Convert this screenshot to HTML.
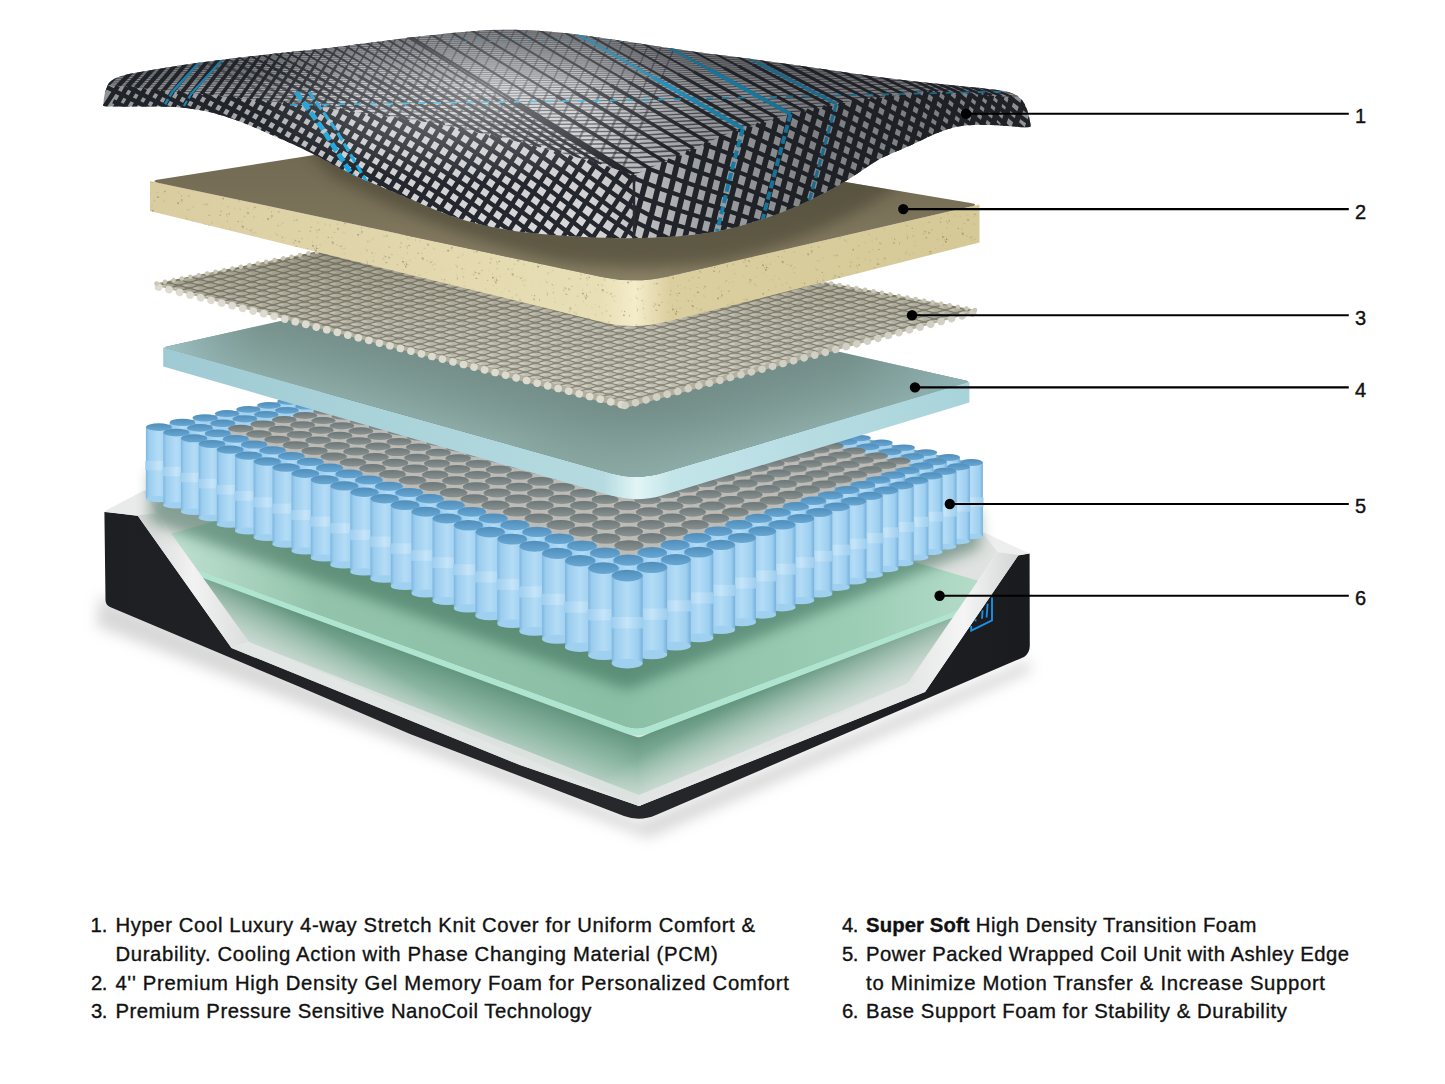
<!DOCTYPE html>
<html><head><meta charset="utf-8"><title>Mattress layers</title>
<style>html,body{margin:0;padding:0;background:#fff}svg{display:block;font-family:"Liberation Sans",sans-serif}</style></head>
<body><svg width="1445" height="1084" viewBox="0 0 1445 1084">
<rect width="1445" height="1084" fill="#fff"/>
<defs>
<filter id="blur8" x="-10%" y="-30%" width="120%" height="160%"><feGaussianBlur stdDeviation="7"/></filter>
<linearGradient id="gBlack" x1="0" y1="0" x2="1" y2="0"><stop offset="0" stop-color="#1d1f22"/><stop offset=".55" stop-color="#26282b"/><stop offset="1" stop-color="#1a1b1e"/></linearGradient>
<linearGradient id="gGreenTop" gradientUnits="userSpaceOnUse" x1="170" y1="0" x2="980" y2="0"><stop offset="0" stop-color="#bfe0d1"/><stop offset=".18" stop-color="#93c4ab"/><stop offset=".55" stop-color="#8bbfa5"/><stop offset=".85" stop-color="#9ccdb5"/><stop offset="1" stop-color="#b4dcc9"/></linearGradient>
<linearGradient id="gGreenLow" gradientUnits="userSpaceOnUse" x1="0" y1="600" x2="0" y2="800"><stop offset="0" stop-color="#6a9c87"/><stop offset=".5" stop-color="#97c1ad"/><stop offset="1" stop-color="#d9e4df"/></linearGradient>
<linearGradient id="gGreenLowA" gradientUnits="userSpaceOnUse" x1="412" y1="655" x2="384.4" y2="730"><stop offset="0" stop-color="#64967f"/><stop offset=".35" stop-color="#8ab6a1"/><stop offset="1" stop-color="#dce6e1"/></linearGradient>
<linearGradient id="gGreenLowB" gradientUnits="userSpaceOnUse" x1="805" y1="674" x2="833.5" y2="748.7"><stop offset="0" stop-color="#64967f"/><stop offset=".35" stop-color="#8ab6a1"/><stop offset="1" stop-color="#dce6e1"/></linearGradient>
<linearGradient id="gGreenLowL" gradientUnits="userSpaceOnUse" x1="200" y1="780" x2="330" y2="560"><stop offset=".45" stop-color="#dfe5e2"/><stop offset=".75" stop-color="#dfe5e2" stop-opacity="0"/></linearGradient>
<linearGradient id="gGreenLowR" gradientUnits="userSpaceOnUse" x1="960" y1="800" x2="830" y2="560"><stop offset=".42" stop-color="#dfe5e2"/><stop offset=".7" stop-color="#dfe5e2" stop-opacity="0"/></linearGradient>
<linearGradient id="gWhiteL" x1="0" y1="0" x2="1" y2="0"><stop offset="0" stop-color="#d4d6d5"/><stop offset=".5" stop-color="#f1f2f1"/><stop offset="1" stop-color="#dcdedd"/></linearGradient>
<linearGradient id="gWhiteR" x1="0" y1="0" x2="1" y2="0"><stop offset="0" stop-color="#e4e6e5"/><stop offset=".5" stop-color="#f4f5f4"/><stop offset="1" stop-color="#d4d6d5"/></linearGradient>


<linearGradient id="gCyl" x1="0" y1="0" x2="1" y2="0"><stop offset="0" stop-color="#7fb6df"/><stop offset=".12" stop-color="#9bcdef"/><stop offset=".5" stop-color="#b4dcf6"/><stop offset=".85" stop-color="#9dcff0"/><stop offset="1" stop-color="#78b1dc"/></linearGradient>
<linearGradient id="gBand" x1="0" y1="0" x2="1" y2="0"><stop offset="0" stop-color="#9dcdee"/><stop offset=".5" stop-color="#c6e5f9"/><stop offset="1" stop-color="#9dcdee"/></linearGradient>
<linearGradient id="gCapB" x1="0" y1="0" x2="0" y2="1"><stop offset="0" stop-color="#4f8ebb"/><stop offset="1" stop-color="#68a7d2"/></linearGradient>
<linearGradient id="gCapG" x1="0" y1="0" x2="0" y2="1"><stop offset="0" stop-color="#6b7677"/><stop offset="1" stop-color="#8a9291"/></linearGradient>
<linearGradient id="gCoilShade" gradientUnits="userSpaceOnUse" x1="0" y1="420" x2="0" y2="680"><stop offset="0" stop-color="#2a5f8a" stop-opacity=".12"/><stop offset=".5" stop-color="#fff" stop-opacity="0"/><stop offset="1" stop-color="#fff" stop-opacity=".08"/></linearGradient>

<linearGradient id="g4s" gradientUnits="userSpaceOnUse" x1="163.2" y1="0" x2="969.4" y2="0"><stop offset="0" stop-color="#9fcad3"/><stop offset="0.546" stop-color="#b5dbe0"/><stop offset="0.588" stop-color="#e2f5f6"/><stop offset="0.630" stop-color="#c3e5e9"/><stop offset="1" stop-color="#a8d3da"/></linearGradient>
<linearGradient id="g4a" gradientUnits="userSpaceOnUse" x1="400" y1="414" x2="421" y2="340"><stop offset="0" stop-color="#8dabA6" stop-opacity="1"/><stop offset=".5" stop-color="#84a19b" stop-opacity=".55"/><stop offset="1" stop-color="#7c9993" stop-opacity="0"/></linearGradient>
<linearGradient id="g4b" gradientUnits="userSpaceOnUse" x1="800" y1="431.5" x2="778" y2="358"><stop offset="0" stop-color="#8dabA6" stop-opacity="1"/><stop offset=".5" stop-color="#84a19b" stop-opacity=".55"/><stop offset="1" stop-color="#7c9993" stop-opacity="0"/></linearGradient>
<linearGradient id="g4rim" gradientUnits="userSpaceOnUse" x1="163" y1="0" x2="970" y2="0"><stop offset="0" stop-color="#9fc4c8" stop-opacity=".9"/><stop offset=".12" stop-color="#86a8a8" stop-opacity="0"/><stop offset=".85" stop-color="#86a8a8" stop-opacity="0"/><stop offset="1" stop-color="#8fb4b8" stop-opacity=".8"/></linearGradient>
<pattern id="pNano" width="1" height="1" patternUnits="userSpaceOnUse" patternTransform="matrix(10.5 2.8 10.5 -3 0 0)">
<rect width="1" height="1" fill="#7c7a6c"/><rect x=".1" y=".1" width=".8" height=".8" rx=".28" fill="#bab8a8"/><rect x=".15" y=".15" width=".42" height=".42" rx=".2" fill="#d0cec1"/></pattern>
<linearGradient id="g3sh" gradientUnits="userSpaceOnUse" x1="0" y1="230" x2="0" y2="410"><stop offset="0" stop-color="#5d5a48" stop-opacity=".55"/><stop offset=".35" stop-color="#77735f" stop-opacity=".25"/><stop offset="1" stop-color="#ffffff" stop-opacity=".12"/></linearGradient>
<linearGradient id="g2s" gradientUnits="userSpaceOnUse" x1="150" y1="0" x2="979.5" y2="0"><stop offset="0" stop-color="#d9cda0"/><stop offset="0.544" stop-color="#e9dfb6"/><stop offset="0.585" stop-color="#f4ecca"/><stop offset="0.626" stop-color="#dccf9f"/><stop offset="1" stop-color="#d6c998"/></linearGradient>
<linearGradient id="g2t" gradientUnits="userSpaceOnUse" x1="0" y1="130" x2="0" y2="290"><stop offset="0" stop-color="#6e664f"/><stop offset=".5" stop-color="#7a7159"/><stop offset="1" stop-color="#8b8267"/></linearGradient>
<pattern id="pSpeck" width="90" height="60" patternUnits="userSpaceOnUse" patternTransform="skewY(10)"><circle cx="29.1" cy="9.1" r="0.8" fill="#8a7c54"/><circle cx="6.5" cy="32.2" r="0.5" fill="#8a7c54"/><circle cx="81.9" cy="12.9" r="0.3" fill="#b3a678"/><circle cx="37.6" cy="14.4" r="0.6" fill="#b3a678"/><circle cx="5.3" cy="33.9" r="0.4" fill="#8a7c54"/><circle cx="51.9" cy="23.8" r="0.4" fill="#8a7c54"/><circle cx="50.1" cy="8.0" r="0.5" fill="#9c8e63"/><circle cx="48.7" cy="34.3" r="0.6" fill="#9c8e63"/><circle cx="9.3" cy="34.3" r="0.4" fill="#6f6444"/><circle cx="8.8" cy="42.7" r="0.6" fill="#8a7c54"/><circle cx="55.7" cy="29.8" r="0.6" fill="#b3a678"/><circle cx="70.0" cy="27.9" r="0.5" fill="#6f6444"/><circle cx="27.0" cy="47.7" r="0.8" fill="#9c8e63"/><circle cx="7.4" cy="18.0" r="0.5" fill="#6f6444"/><circle cx="65.7" cy="17.3" r="0.3" fill="#8a7c54"/><circle cx="46.1" cy="9.9" r="0.5" fill="#9c8e63"/><circle cx="84.0" cy="25.3" r="0.8" fill="#8a7c54"/><circle cx="68.8" cy="34.4" r="0.5" fill="#6f6444"/><circle cx="62.6" cy="35.7" r="0.6" fill="#b3a678"/><circle cx="6.2" cy="5.6" r="0.5" fill="#b3a678"/><circle cx="62.7" cy="3.9" r="0.8" fill="#6f6444"/><circle cx="58.2" cy="59.6" r="0.5" fill="#6f6444"/><circle cx="64.5" cy="53.2" r="0.5" fill="#8a7c54"/><circle cx="84.7" cy="21.3" r="0.6" fill="#8a7c54"/><circle cx="44.4" cy="13.1" r="0.5" fill="#9c8e63"/><circle cx="66.5" cy="23.9" r="0.5" fill="#8a7c54"/><circle cx="15.0" cy="24.1" r="0.5" fill="#9c8e63"/><circle cx="73.7" cy="51.8" r="0.5" fill="#b3a678"/><circle cx="88.8" cy="41.0" r="0.5" fill="#9c8e63"/><circle cx="13.6" cy="10.6" r="0.4" fill="#9c8e63"/><circle cx="1.1" cy="49.9" r="0.4" fill="#6f6444"/><circle cx="25.4" cy="8.7" r="0.6" fill="#6f6444"/><circle cx="54.9" cy="19.1" r="0.4" fill="#8a7c54"/><circle cx="41.1" cy="52.3" r="0.8" fill="#b3a678"/><circle cx="35.8" cy="23.6" r="0.5" fill="#b3a678"/><circle cx="5.6" cy="4.0" r="0.4" fill="#b3a678"/><circle cx="14.6" cy="20.4" r="0.3" fill="#8a7c54"/><circle cx="0.0" cy="9.1" r="0.3" fill="#6f6444"/><circle cx="55.2" cy="4.2" r="0.4" fill="#b3a678"/><circle cx="13.4" cy="15.1" r="0.5" fill="#6f6444"/><circle cx="42.7" cy="6.9" r="0.5" fill="#b3a678"/><circle cx="43.2" cy="18.7" r="0.4" fill="#8a7c54"/><circle cx="67.5" cy="44.4" r="0.5" fill="#9c8e63"/><circle cx="46.5" cy="12.3" r="0.6" fill="#6f6444"/><circle cx="13.2" cy="32.6" r="0.3" fill="#6f6444"/><circle cx="88.1" cy="51.8" r="0.8" fill="#6f6444"/><circle cx="46.7" cy="54.5" r="0.5" fill="#9c8e63"/><circle cx="47.9" cy="46.7" r="0.5" fill="#9c8e63"/><circle cx="55.2" cy="47.3" r="0.4" fill="#9c8e63"/><circle cx="73.6" cy="44.4" r="0.4" fill="#9c8e63"/><circle cx="46.6" cy="21.3" r="0.3" fill="#8a7c54"/><circle cx="71.1" cy="28.3" r="0.4" fill="#6f6444"/><circle cx="40.3" cy="56.2" r="0.5" fill="#6f6444"/><circle cx="7.2" cy="6.1" r="0.5" fill="#9c8e63"/><circle cx="30.4" cy="29.0" r="0.6" fill="#8a7c54"/><circle cx="43.2" cy="39.2" r="0.8" fill="#8a7c54"/><circle cx="75.1" cy="7.2" r="0.5" fill="#9c8e63"/><circle cx="43.0" cy="10.7" r="0.8" fill="#6f6444"/><circle cx="7.8" cy="56.8" r="0.8" fill="#b3a678"/><circle cx="41.7" cy="44.6" r="0.3" fill="#9c8e63"/><circle cx="15.3" cy="7.6" r="0.4" fill="#b3a678"/><circle cx="72.6" cy="8.8" r="0.6" fill="#b3a678"/><circle cx="59.2" cy="21.0" r="0.6" fill="#9c8e63"/><circle cx="1.9" cy="48.0" r="0.8" fill="#8a7c54"/><circle cx="47.4" cy="56.0" r="0.5" fill="#9c8e63"/><circle cx="74.4" cy="12.7" r="0.5" fill="#9c8e63"/><circle cx="26.4" cy="14.4" r="0.6" fill="#6f6444"/><circle cx="23.3" cy="25.1" r="0.4" fill="#8a7c54"/><circle cx="81.9" cy="21.2" r="0.5" fill="#b3a678"/><circle cx="74.4" cy="52.7" r="0.4" fill="#9c8e63"/><circle cx="47.1" cy="1.1" r="0.5" fill="#9c8e63"/><circle cx="54.8" cy="46.6" r="0.4" fill="#9c8e63"/><circle cx="12.7" cy="37.1" r="0.3" fill="#8a7c54"/><circle cx="29.3" cy="31.1" r="0.6" fill="#b3a678"/><circle cx="70.6" cy="6.4" r="0.6" fill="#8a7c54"/><circle cx="22.4" cy="16.6" r="0.3" fill="#b3a678"/><circle cx="50.6" cy="45.6" r="0.3" fill="#b3a678"/><circle cx="29.3" cy="58.4" r="0.6" fill="#9c8e63"/><circle cx="62.3" cy="27.1" r="0.6" fill="#b3a678"/><circle cx="45.7" cy="14.9" r="0.6" fill="#6f6444"/><circle cx="83.1" cy="53.6" r="0.4" fill="#b3a678"/><circle cx="12.3" cy="7.3" r="0.5" fill="#6f6444"/><circle cx="6.5" cy="14.4" r="0.3" fill="#9c8e63"/><circle cx="60.3" cy="47.0" r="0.4" fill="#6f6444"/><circle cx="12.9" cy="53.0" r="0.5" fill="#9c8e63"/><circle cx="67.2" cy="5.6" r="0.5" fill="#9c8e63"/><circle cx="89.1" cy="49.9" r="0.4" fill="#b3a678"/><circle cx="89.5" cy="24.2" r="0.5" fill="#9c8e63"/><circle cx="32.1" cy="5.5" r="0.5" fill="#8a7c54"/><circle cx="30.4" cy="27.5" r="0.8" fill="#8a7c54"/><circle cx="34.6" cy="31.0" r="0.5" fill="#8a7c54"/><circle cx="10.2" cy="55.1" r="0.4" fill="#8a7c54"/><circle cx="7.6" cy="16.3" r="0.4" fill="#6f6444"/><circle cx="68.0" cy="49.2" r="0.8" fill="#6f6444"/><circle cx="36.5" cy="32.2" r="0.6" fill="#b3a678"/><circle cx="63.0" cy="5.4" r="0.3" fill="#9c8e63"/><circle cx="38.3" cy="4.3" r="0.3" fill="#8a7c54"/><circle cx="72.1" cy="5.0" r="0.4" fill="#8a7c54"/><circle cx="23.8" cy="7.3" r="0.3" fill="#6f6444"/><circle cx="89.5" cy="25.1" r="0.5" fill="#9c8e63"/><circle cx="3.9" cy="42.6" r="0.3" fill="#9c8e63"/><circle cx="23.6" cy="10.9" r="0.5" fill="#6f6444"/><circle cx="47.8" cy="12.4" r="0.5" fill="#9c8e63"/><circle cx="24.3" cy="48.2" r="0.5" fill="#8a7c54"/><circle cx="1.4" cy="44.0" r="0.6" fill="#9c8e63"/><circle cx="46.3" cy="14.7" r="0.5" fill="#8a7c54"/><circle cx="59.2" cy="39.0" r="0.8" fill="#b3a678"/><circle cx="49.1" cy="53.3" r="0.6" fill="#6f6444"/><circle cx="61.9" cy="58.9" r="0.5" fill="#9c8e63"/><circle cx="74.9" cy="42.4" r="0.8" fill="#9c8e63"/></pattern>
<clipPath id="cp2top"><path d="M158.8 182.9 Q150 181 158.9 179.6 L505 125 L970.6 203 Q979.5 204.5 970.7 206.5 L668.1 276.4 Q635 284 601.7 276.9 Z"/></clipPath>
<clipPath id="cpCover"><path d="M103.3 105.7 Q103.3 105 103.9 98.5 Q104.5 92 108 84.5 Q111.6 77 135.8 72.8 Q160 68.5 183 65 Q206 61.6 238 57.8 Q270 54 300 51.1 Q330 48.3 363.5 43.6 Q397 39 423.5 36 Q450 33 472 31.2 Q494 29.5 512 29.8 Q530 30 550.5 31.8 Q571 33.5 600.5 37.8 Q630 42 658.8 46.5 Q687.6 51 736 57.1 Q784.5 63.3 832.8 70.5 Q881 77.8 915.5 81.4 Q950 85 975 87.5 Q1000 90 1006.5 91.5 Q1013 93 1017.5 96 Q1022 99 1024.8 104.2 Q1027.6 109.5 1029.1 116.9 Q1030.6 124.3 1030.5 126.2 Q1030.5 128 1014.2 126.5 Q998 125 983.3 124.7 Q968.6 124.3 957.5 126.5 Q946.4 128.7 935.2 133.8 Q924 139 914.5 143.5 Q905 148 892.5 153 Q880 158 870 165 Q860 172 846.5 180.5 Q833 189 811.5 199.5 Q790 210 763 219 Q736 228 713 232 Q690 236 662 237.3 Q634 238.7 612 238.1 Q590 237.5 566 236 Q542 234.5 520 231.8 Q498 229 474.5 223 Q451 217 426 206 Q401 195 375.5 184.5 Q350 174 340 168.5 Q330 163 315 155 Q300 147 288.5 142.2 Q277 137.5 266.5 132.8 Q256 128 245.5 123.8 Q235 119.5 224.8 116.2 Q214.6 113 204.8 111 Q195 109 184 107.8 Q173 106.6 156.5 106.5 Q140 106.4 121.7 106.4 Q103.3 106.4 103.3 105.7Z"/></clipPath>
<clipPath id="cpTop"><path d="M90 10 L1045 10 L1045 100 L1051.1 99.9 L1031.5 98.4 L1012 97 L996.8 95.9 L981.2 94.7 L965.3 93.6 L948.9 92.4 L932.2 91.2 L915.1 92.9 L897.7 95 L879.7 97.3 L861.3 99.6 L842.6 102.6 L823.5 106.7 L803.9 111 L783.9 115.9 L763.7 122 L742.9 128.4 L721.9 136.1 L700.9 145.4 L679.3 155.1 L657 164.9 L634 175 L634 175 L608.8 167 L584 159.3 L559.4 152.6 L535.2 146 L511.3 140.2 L487.7 134.8 L464.5 129.6 L441.7 124.4 L419 121 L396.7 117.7 L374.7 114.6 L353.1 111.4 L331.8 108.8 L310.8 106.3 L290.1 103.8 L269.8 101.4 L249.8 99 L230.1 97 L210.7 95.1 L191.6 93.2 L172.8 91.4 L154.2 89.6 L136 87.8 L118 86 L96.2 83.9 L74.5 81.7 L52.7 79.6 L90 84Z"/></clipPath>

<linearGradient id="gCovBase" gradientUnits="userSpaceOnUse" x1="0" y1="25" x2="0" y2="240"><stop offset="0" stop-color="#a2a3a6"/><stop offset=".3" stop-color="#c4c5c8"/><stop offset="1" stop-color="#d9d9db"/></linearGradient>
<radialGradient id="gCovHi" gradientUnits="userSpaceOnUse" cx="480" cy="92" r="230" gradientTransform="translate(480 92) scale(1 .4) translate(-480 -92)"><stop offset="0" stop-color="#fff" stop-opacity=".42"/><stop offset="1" stop-color="#fff" stop-opacity="0"/></radialGradient>
<linearGradient id="gCovDarkR" gradientUnits="userSpaceOnUse" x1="590" y1="0" x2="1030" y2="0"><stop offset="0" stop-color="#15171b" stop-opacity="0"/><stop offset=".25" stop-color="#15171b" stop-opacity=".27"/><stop offset=".5" stop-color="#15171b" stop-opacity=".42"/><stop offset=".8" stop-color="#15171b" stop-opacity=".42"/><stop offset="1" stop-color="#15171b" stop-opacity=".3"/></linearGradient>
<linearGradient id="gCovDarkL" gradientUnits="userSpaceOnUse" x1="100" y1="0" x2="360" y2="0"><stop offset="0" stop-color="#15171b" stop-opacity=".3"/><stop offset=".5" stop-color="#15171b" stop-opacity=".2"/><stop offset="1" stop-color="#15171b" stop-opacity="0"/></linearGradient>
<linearGradient id="gCovTopDark" gradientUnits="userSpaceOnUse" x1="0" y1="25" x2="0" y2="90"><stop offset="0" stop-color="#22252a" stop-opacity=".45"/><stop offset="1" stop-color="#22252a" stop-opacity="0"/></linearGradient>

<clipPath id="cpSL"><rect x="90" y="60" width="544.3" height="200"/></clipPath><clipPath id="cpSR"><rect x="633.7" y="60" width="420" height="200"/></clipPath></defs>
<path d="M100 596 L640 822 L1030 660 L1030 672 L648 838 L96 626Z" fill="#8a8a8a" opacity=".33" filter="url(#blur8)"/>
<path d="M104.4 512 L137.6 515.4 L231.5 648 L520 765 L639 806 L925 692 L1018.5 555 L1029.6 553.5 L1029.8 645 Q1030 653 1024 657 L656 815 Q640 822 624 816 L410 734 L300 687 L110 607 Q105.5 605 105.5 600 Z" fill="url(#gBlack)"/>
<path d="M104 511.5 L143 491 L175 500 L156.5 513 L138 516Z" fill="#e9eaea"/>
<path d="M981 531 L1029.6 553.5 L1018.5 555.5 L997.5 552 L960 545Z" fill="#eeeeee"/>
<path d="M143 491 L500 400 L981 531 L997.5 552 L908 683 L639 806 L249 642 L156.5 513Z" fill="#dfe2e0"/>
<path d="M169.7 534 L500 440 L979 581 L964 608.5 L650 726 Q638 731 626 727 L194 569.5Z" fill="url(#gGreenTop)"/>
<path d="M194 569.5 L626 727 Q638 731 650 726 L964 608.5 L961 614.5 L650 733 Q638 737.5 626 733.5 L199 576.5Z" fill="#aee5d0"/>
<path d="M199 576.5 L626 733.5 Q638 737.5 639 737.5 L639 806 L249 642Z" fill="url(#gGreenLowA)"/>
<path d="M638 737.5 Q640 737.5 650 733 L961 614.5 L908 683 L639 806Z" fill="url(#gGreenLowB)"/>
<path d="M199 576.5 L626 733.5 Q638 737.5 650 733 L961 614.5 L908 683 L639 806 L249 642Z" fill="url(#gGreenLowL)"/>
<path d="M199 576.5 L626 733.5 Q638 737.5 650 733 L961 614.5 L908 683 L639 806 L249 642Z" fill="url(#gGreenLowR)"/>
<path d="M137.6 515.4 L156.5 513 L249 642 L231.5 648Z" fill="url(#gWhiteL)"/>
<path d="M1018.5 555 L997.5 552 L908 683 L925 692Z" fill="url(#gWhiteR)"/>
<path d="M231.5 648 L249 642 L639 795 L639 806 L520 765Z" fill="#dfe3e1" opacity=".9"/>
<path d="M925 692 L908 683 L639 795 L639 806Z" fill="#e3e6e4" opacity=".9"/>
<g fill="none" stroke="#1a8fe3" stroke-width="1.9"><path d="M992 597.6 L992 620.3 L971.2 630.6 L971.2 626"/><path d="M987.6 603.7 L986.6 617.5 M982.6 610.4 L982 618.7 M975.6 619.4 L975.4 621.4"/></g>
<g>
<path d="M150 470 L627 640 L980 510 L980 548 L627 690 L150 522Z" fill="#2f5f4c" opacity=".5" filter="url(#blur8)"/>
<path d="M148.8 429.1 L500 355.6 L979.5 464.5 L979.5 522.5 L627.2 655.6 L148.8 487.1Z" fill="#7fa9c7"/>
<path d="M224.4 428.3 L507.5 370.5 L913.7 461.3 L628.7 551.2Z" fill="#9a9c99"/>
<ellipse cx="288.9" cy="405" rx="10.9" ry="3.3" fill="#a5d2ef"/>
<ellipse cx="288.9" cy="401.4" rx="11.7" ry="3.3" fill="url(#gCapB)"/>
<ellipse cx="269" cy="409" rx="11.1" ry="3.4" fill="#a5d2ef"/>
<ellipse cx="269" cy="405.3" rx="11.9" ry="3.4" fill="url(#gCapB)"/>
<ellipse cx="306.9" cy="410" rx="11" ry="3.3" fill="#a5d2ef"/>
<ellipse cx="306.9" cy="406.3" rx="11.8" ry="3.3" fill="url(#gCapB)"/>
<ellipse cx="248.4" cy="413.2" rx="11.3" ry="3.4" fill="#a5d2ef"/>
<ellipse cx="248.4" cy="409.4" rx="12.1" ry="3.4" fill="url(#gCapB)"/>
<ellipse cx="286.9" cy="414.1" rx="11.2" ry="3.4" fill="#a5d2ef"/>
<ellipse cx="286.9" cy="410.3" rx="12" ry="3.4" fill="url(#gCapB)"/>
<ellipse cx="325.1" cy="415" rx="10.7" ry="3.4" fill="#bdbbb6"/>
<ellipse cx="325.1" cy="411.3" rx="11.9" ry="3.4" fill="url(#gCapG)"/>
<ellipse cx="227.1" cy="417.5" rx="11.4" ry="3.5" fill="#a5d2ef"/>
<ellipse cx="227.1" cy="413.6" rx="12.3" ry="3.5" fill="url(#gCapB)"/>
<ellipse cx="266.3" cy="418.3" rx="11.3" ry="3.5" fill="#a5d2ef"/>
<ellipse cx="266.3" cy="414.5" rx="12.2" ry="3.5" fill="url(#gCapB)"/>
<ellipse cx="305.1" cy="419.2" rx="10.9" ry="3.5" fill="#bdbbb6"/>
<ellipse cx="305.1" cy="415.4" rx="12.1" ry="3.5" fill="url(#gCapG)"/>
<ellipse cx="343.5" cy="420.1" rx="10.8" ry="3.4" fill="#bdbbb6"/>
<ellipse cx="343.5" cy="416.3" rx="12" ry="3.4" fill="url(#gCapG)"/>
<ellipse cx="205.1" cy="421.9" rx="11.6" ry="3.6" fill="#a5d2ef"/>
<ellipse cx="205.1" cy="417.9" rx="12.5" ry="3.6" fill="url(#gCapB)"/>
<ellipse cx="244.9" cy="422.8" rx="11.5" ry="3.6" fill="#a5d2ef"/>
<ellipse cx="244.9" cy="418.8" rx="12.4" ry="3.6" fill="url(#gCapB)"/>
<ellipse cx="284.3" cy="423.6" rx="11.1" ry="3.6" fill="#bdbbb6"/>
<ellipse cx="284.3" cy="419.7" rx="12.3" ry="3.6" fill="url(#gCapG)"/>
<ellipse cx="323.4" cy="424.4" rx="11" ry="3.5" fill="#bdbbb6"/>
<ellipse cx="323.4" cy="420.6" rx="12.2" ry="3.5" fill="url(#gCapG)"/>
<ellipse cx="362.1" cy="425.3" rx="10.9" ry="3.5" fill="#bdbbb6"/>
<ellipse cx="362.1" cy="421.4" rx="12.1" ry="3.5" fill="url(#gCapG)"/>
<rect x="169.7" y="422.4" width="25.4" height="71.5" fill="url(#gCyl)"/>
<ellipse cx="182.4" cy="493.9" rx="12.7" ry="3" fill="#9fd0f0"/>
<rect x="169.1" y="456" width="26.6" height="9.3" fill="url(#gBand)"/>
<ellipse cx="182.4" cy="422.4" rx="12.7" ry="3.7" fill="url(#gCapB)"/>
<ellipse cx="222.8" cy="427.3" rx="11.7" ry="3.7" fill="#a5d2ef"/>
<ellipse cx="222.8" cy="423.3" rx="12.6" ry="3.7" fill="url(#gCapB)"/>
<ellipse cx="262.9" cy="428.1" rx="11.2" ry="3.7" fill="#bdbbb6"/>
<ellipse cx="262.9" cy="424.1" rx="12.5" ry="3.7" fill="url(#gCapG)"/>
<ellipse cx="302.6" cy="428.9" rx="11.1" ry="3.6" fill="#bdbbb6"/>
<ellipse cx="302.6" cy="424.9" rx="12.4" ry="3.6" fill="url(#gCapG)"/>
<ellipse cx="342" cy="429.7" rx="11" ry="3.6" fill="#bdbbb6"/>
<ellipse cx="342" cy="425.8" rx="12.3" ry="3.6" fill="url(#gCapG)"/>
<ellipse cx="381" cy="430.5" rx="10.9" ry="3.6" fill="#bdbbb6"/>
<ellipse cx="381" cy="426.6" rx="12.2" ry="3.6" fill="url(#gCapG)"/>
<rect x="145.9" y="427.1" width="25.9" height="72" fill="url(#gCyl)"/>
<ellipse cx="158.8" cy="499.1" rx="12.9" ry="3.1" fill="#9fd0f0"/>
<rect x="145.3" y="460.9" width="27.1" height="9.4" fill="url(#gBand)"/>
<ellipse cx="158.8" cy="427.1" rx="12.9" ry="3.8" fill="url(#gCapB)"/>
<rect x="187.2" y="427.9" width="25.6" height="72.2" fill="url(#gCyl)"/>
<ellipse cx="200" cy="500" rx="12.8" ry="3" fill="#9fd0f0"/>
<rect x="186.6" y="461.8" width="26.8" height="9.4" fill="url(#gBand)"/>
<ellipse cx="200" cy="427.9" rx="12.8" ry="3.8" fill="url(#gCapB)"/>
<ellipse cx="240.7" cy="432.8" rx="11.4" ry="3.8" fill="#bdbbb6"/>
<ellipse cx="240.7" cy="428.6" rx="12.7" ry="3.8" fill="url(#gCapG)"/>
<ellipse cx="281.1" cy="433.5" rx="11.3" ry="3.7" fill="#bdbbb6"/>
<ellipse cx="281.1" cy="429.4" rx="12.6" ry="3.7" fill="url(#gCapG)"/>
<ellipse cx="321.1" cy="434.3" rx="11.2" ry="3.7" fill="#bdbbb6"/>
<ellipse cx="321.1" cy="430.2" rx="12.5" ry="3.7" fill="url(#gCapG)"/>
<ellipse cx="360.8" cy="435" rx="11.1" ry="3.7" fill="#bdbbb6"/>
<ellipse cx="360.8" cy="431" rx="12.4" ry="3.7" fill="url(#gCapG)"/>
<ellipse cx="400" cy="435.8" rx="11" ry="3.6" fill="#bdbbb6"/>
<ellipse cx="400" cy="431.8" rx="12.3" ry="3.6" fill="url(#gCapG)"/>
<rect x="163.3" y="432.6" width="26.1" height="72.7" fill="url(#gCyl)"/>
<ellipse cx="176.3" cy="505.3" rx="13" ry="3.1" fill="#9fd0f0"/>
<rect x="162.7" y="466.8" width="27.3" height="9.5" fill="url(#gBand)"/>
<ellipse cx="176.3" cy="432.6" rx="13" ry="3.9" fill="url(#gCapB)"/>
<rect x="204.9" y="433.4" width="25.8" height="72.8" fill="url(#gCyl)"/>
<ellipse cx="217.8" cy="506.2" rx="12.9" ry="3.1" fill="#9fd0f0"/>
<rect x="204.3" y="467.6" width="27" height="9.5" fill="url(#gBand)"/>
<ellipse cx="217.8" cy="433.4" rx="12.9" ry="3.9" fill="url(#gCapB)"/>
<ellipse cx="838.1" cy="436.9" rx="10.2" ry="3.2" fill="#a5d2ef"/>
<ellipse cx="838.1" cy="433.4" rx="11" ry="3.2" fill="url(#gCapB)"/>
<ellipse cx="258.9" cy="438.3" rx="11.5" ry="3.8" fill="#bdbbb6"/>
<ellipse cx="258.9" cy="434.1" rx="12.8" ry="3.8" fill="url(#gCapG)"/>
<ellipse cx="299.5" cy="439" rx="11.4" ry="3.8" fill="#bdbbb6"/>
<ellipse cx="299.5" cy="434.8" rx="12.7" ry="3.8" fill="url(#gCapG)"/>
<ellipse cx="339.8" cy="439.7" rx="11.3" ry="3.8" fill="#bdbbb6"/>
<ellipse cx="339.8" cy="435.6" rx="12.6" ry="3.8" fill="url(#gCapG)"/>
<ellipse cx="379.8" cy="440.4" rx="11.2" ry="3.7" fill="#bdbbb6"/>
<ellipse cx="379.8" cy="436.4" rx="12.4" ry="3.7" fill="url(#gCapG)"/>
<ellipse cx="419.3" cy="441.2" rx="11.1" ry="3.7" fill="#bdbbb6"/>
<ellipse cx="419.3" cy="437.1" rx="12.3" ry="3.7" fill="url(#gCapG)"/>
<ellipse cx="824.6" cy="440.8" rx="10.3" ry="3.2" fill="#a5d2ef"/>
<ellipse cx="824.6" cy="437.2" rx="11.1" ry="3.2" fill="url(#gCapB)"/>
<ellipse cx="859.8" cy="441.7" rx="10.3" ry="3.2" fill="#a5d2ef"/>
<ellipse cx="859.8" cy="438.1" rx="11.1" ry="3.2" fill="url(#gCapB)"/>
<rect x="180.9" y="438.3" width="26.3" height="73.4" fill="url(#gCyl)"/>
<ellipse cx="194" cy="511.7" rx="13.1" ry="3.2" fill="#9fd0f0"/>
<rect x="180.3" y="472.8" width="27.5" height="9.5" fill="url(#gBand)"/>
<ellipse cx="194" cy="438.3" rx="13.1" ry="4" fill="url(#gCapB)"/>
<rect x="222.8" y="438.9" width="26" height="73.5" fill="url(#gCyl)"/>
<ellipse cx="235.8" cy="512.5" rx="13" ry="3.1" fill="#9fd0f0"/>
<rect x="222.2" y="473.5" width="27.2" height="9.6" fill="url(#gBand)"/>
<ellipse cx="235.8" cy="438.9" rx="13" ry="3.9" fill="url(#gCapB)"/>
<ellipse cx="277.2" cy="443.9" rx="11.6" ry="3.9" fill="#bdbbb6"/>
<ellipse cx="277.2" cy="439.6" rx="12.9" ry="3.9" fill="url(#gCapG)"/>
<ellipse cx="318.2" cy="444.6" rx="11.5" ry="3.9" fill="#bdbbb6"/>
<ellipse cx="318.2" cy="440.3" rx="12.8" ry="3.9" fill="url(#gCapG)"/>
<ellipse cx="358.8" cy="445.2" rx="11.4" ry="3.8" fill="#bdbbb6"/>
<ellipse cx="358.8" cy="441" rx="12.6" ry="3.8" fill="url(#gCapG)"/>
<ellipse cx="810.8" cy="444.8" rx="10.1" ry="3.3" fill="#bdbbb6"/>
<ellipse cx="810.8" cy="441.1" rx="11.2" ry="3.3" fill="url(#gCapG)"/>
<ellipse cx="399" cy="445.9" rx="11.3" ry="3.8" fill="#bdbbb6"/>
<ellipse cx="399" cy="441.7" rx="12.5" ry="3.8" fill="url(#gCapG)"/>
<ellipse cx="846.3" cy="445.6" rx="10.4" ry="3.3" fill="#a5d2ef"/>
<ellipse cx="846.3" cy="442" rx="11.1" ry="3.3" fill="url(#gCapB)"/>
<ellipse cx="438.8" cy="446.6" rx="11.2" ry="3.7" fill="#bdbbb6"/>
<ellipse cx="438.8" cy="442.5" rx="12.4" ry="3.7" fill="url(#gCapG)"/>
<ellipse cx="881.7" cy="446.5" rx="10.3" ry="3.3" fill="#a5d2ef"/>
<ellipse cx="881.7" cy="442.9" rx="11.1" ry="3.3" fill="url(#gCapB)"/>
<rect x="198.7" y="443.9" width="26.5" height="74.1" fill="url(#gCyl)"/>
<ellipse cx="211.9" cy="518" rx="13.2" ry="3.2" fill="#9fd0f0"/>
<rect x="198.1" y="478.8" width="27.7" height="9.6" fill="url(#gBand)"/>
<ellipse cx="211.9" cy="443.9" rx="13.2" ry="4" fill="url(#gCapB)"/>
<rect x="241" y="444.6" width="26.2" height="74.2" fill="url(#gCyl)"/>
<ellipse cx="254.1" cy="518.8" rx="13.1" ry="3.2" fill="#9fd0f0"/>
<rect x="240.4" y="479.5" width="27.4" height="9.6" fill="url(#gBand)"/>
<ellipse cx="254.1" cy="444.6" rx="13.1" ry="4" fill="url(#gCapB)"/>
<ellipse cx="796.5" cy="448.9" rx="10.2" ry="3.4" fill="#bdbbb6"/>
<ellipse cx="796.5" cy="445.2" rx="11.4" ry="3.4" fill="url(#gCapG)"/>
<ellipse cx="295.8" cy="449.6" rx="11.7" ry="4" fill="#bdbbb6"/>
<ellipse cx="295.8" cy="445.2" rx="13" ry="4" fill="url(#gCapG)"/>
<ellipse cx="337.1" cy="450.2" rx="11.6" ry="3.9" fill="#bdbbb6"/>
<ellipse cx="337.1" cy="445.9" rx="12.9" ry="3.9" fill="url(#gCapG)"/>
<ellipse cx="832.5" cy="449.7" rx="10.2" ry="3.4" fill="#bdbbb6"/>
<ellipse cx="832.5" cy="446" rx="11.3" ry="3.4" fill="url(#gCapG)"/>
<ellipse cx="378" cy="450.8" rx="11.5" ry="3.9" fill="#bdbbb6"/>
<ellipse cx="378" cy="446.5" rx="12.7" ry="3.9" fill="url(#gCapG)"/>
<ellipse cx="868.3" cy="450.5" rx="10.4" ry="3.3" fill="#a5d2ef"/>
<ellipse cx="868.3" cy="446.9" rx="11.2" ry="3.3" fill="url(#gCapB)"/>
<ellipse cx="418.5" cy="451.4" rx="11.4" ry="3.8" fill="#bdbbb6"/>
<ellipse cx="418.5" cy="447.2" rx="12.6" ry="3.8" fill="url(#gCapG)"/>
<ellipse cx="903.8" cy="451.4" rx="10.4" ry="3.3" fill="#a5d2ef"/>
<ellipse cx="903.8" cy="447.7" rx="11.2" ry="3.3" fill="url(#gCapB)"/>
<ellipse cx="458.6" cy="452.1" rx="11.3" ry="3.8" fill="#bdbbb6"/>
<ellipse cx="458.6" cy="447.9" rx="12.5" ry="3.8" fill="url(#gCapG)"/>
<ellipse cx="781.8" cy="453.2" rx="10.4" ry="3.5" fill="#bdbbb6"/>
<ellipse cx="781.8" cy="449.4" rx="11.5" ry="3.5" fill="url(#gCapG)"/>
<rect x="216.8" y="449.7" width="26.7" height="74.8" fill="url(#gCyl)"/>
<ellipse cx="230.1" cy="524.5" rx="13.4" ry="3.3" fill="#9fd0f0"/>
<rect x="216.2" y="484.9" width="27.9" height="9.7" fill="url(#gBand)"/>
<ellipse cx="230.1" cy="449.7" rx="13.4" ry="4.1" fill="url(#gCapB)"/>
<ellipse cx="818.3" cy="453.9" rx="10.3" ry="3.4" fill="#bdbbb6"/>
<ellipse cx="818.3" cy="450.2" rx="11.4" ry="3.4" fill="url(#gCapG)"/>
<rect x="259.4" y="450.3" width="26.4" height="74.9" fill="url(#gCyl)"/>
<ellipse cx="272.6" cy="525.2" rx="13.2" ry="3.3" fill="#9fd0f0"/>
<rect x="258.8" y="485.5" width="27.6" height="9.7" fill="url(#gBand)"/>
<ellipse cx="272.6" cy="450.3" rx="13.2" ry="4.1" fill="url(#gCapB)"/>
<ellipse cx="314.6" cy="455.3" rx="11.8" ry="4" fill="#bdbbb6"/>
<ellipse cx="314.6" cy="450.9" rx="13.1" ry="4" fill="url(#gCapG)"/>
<ellipse cx="854.5" cy="454.7" rx="10.2" ry="3.4" fill="#bdbbb6"/>
<ellipse cx="854.5" cy="451" rx="11.3" ry="3.4" fill="url(#gCapG)"/>
<ellipse cx="356.2" cy="455.9" rx="11.7" ry="4" fill="#bdbbb6"/>
<ellipse cx="356.2" cy="451.5" rx="13" ry="4" fill="url(#gCapG)"/>
<ellipse cx="890.5" cy="455.5" rx="10.5" ry="3.4" fill="#a5d2ef"/>
<ellipse cx="890.5" cy="451.8" rx="11.3" ry="3.4" fill="url(#gCapB)"/>
<ellipse cx="397.4" cy="456.5" rx="11.5" ry="4" fill="#bdbbb6"/>
<ellipse cx="397.4" cy="452.1" rx="12.8" ry="4" fill="url(#gCapG)"/>
<ellipse cx="926.1" cy="456.3" rx="10.4" ry="3.4" fill="#a5d2ef"/>
<ellipse cx="926.1" cy="452.6" rx="11.2" ry="3.4" fill="url(#gCapB)"/>
<ellipse cx="438.2" cy="457" rx="11.4" ry="3.9" fill="#bdbbb6"/>
<ellipse cx="438.2" cy="452.7" rx="12.7" ry="3.9" fill="url(#gCapG)"/>
<ellipse cx="478.6" cy="457.6" rx="11.3" ry="3.9" fill="#bdbbb6"/>
<ellipse cx="478.6" cy="453.4" rx="12.6" ry="3.9" fill="url(#gCapG)"/>
<ellipse cx="766.6" cy="457.6" rx="10.5" ry="3.5" fill="#bdbbb6"/>
<ellipse cx="766.6" cy="453.7" rx="11.7" ry="3.5" fill="url(#gCapG)"/>
<ellipse cx="803.6" cy="458.3" rx="10.4" ry="3.5" fill="#bdbbb6"/>
<ellipse cx="803.6" cy="454.4" rx="11.6" ry="3.5" fill="url(#gCapG)"/>
<ellipse cx="840.3" cy="459" rx="10.3" ry="3.5" fill="#bdbbb6"/>
<ellipse cx="840.3" cy="455.2" rx="11.5" ry="3.5" fill="url(#gCapG)"/>
<rect x="235.1" y="455.6" width="26.9" height="75.5" fill="url(#gCyl)"/>
<ellipse cx="248.5" cy="531" rx="13.5" ry="3.4" fill="#9fd0f0"/>
<rect x="234.5" y="491" width="28.1" height="9.8" fill="url(#gBand)"/>
<ellipse cx="248.5" cy="455.6" rx="13.5" ry="4.2" fill="url(#gCapB)"/>
<ellipse cx="876.7" cy="459.8" rx="10.3" ry="3.5" fill="#bdbbb6"/>
<ellipse cx="876.7" cy="456" rx="11.4" ry="3.5" fill="url(#gCapG)"/>
<rect x="278" y="456.1" width="26.6" height="75.6" fill="url(#gCyl)"/>
<ellipse cx="291.4" cy="531.7" rx="13.3" ry="3.3" fill="#9fd0f0"/>
<rect x="277.4" y="491.6" width="27.8" height="9.8" fill="url(#gBand)"/>
<ellipse cx="291.4" cy="456.1" rx="13.3" ry="4.1" fill="url(#gCapB)"/>
<ellipse cx="333.7" cy="461.1" rx="11.9" ry="4.1" fill="#bdbbb6"/>
<ellipse cx="333.7" cy="456.6" rx="13.2" ry="4.1" fill="url(#gCapG)"/>
<ellipse cx="912.9" cy="460.5" rx="10.5" ry="3.4" fill="#a5d2ef"/>
<ellipse cx="912.9" cy="456.7" rx="11.3" ry="3.4" fill="url(#gCapB)"/>
<ellipse cx="375.6" cy="461.7" rx="11.7" ry="4.1" fill="#bdbbb6"/>
<ellipse cx="375.6" cy="457.2" rx="13.1" ry="4.1" fill="url(#gCapG)"/>
<rect x="937.4" y="457.5" width="22.5" height="73.5" fill="url(#gCyl)"/>
<ellipse cx="948.7" cy="531" rx="11.3" ry="2.7" fill="#9fd0f0"/>
<rect x="936.8" y="492.1" width="23.7" height="9.6" fill="url(#gBand)"/>
<ellipse cx="948.7" cy="457.5" rx="11.3" ry="3.4" fill="url(#gCapB)"/>
<ellipse cx="417.1" cy="462.2" rx="11.6" ry="4" fill="#bdbbb6"/>
<ellipse cx="417.1" cy="457.8" rx="12.9" ry="4" fill="url(#gCapG)"/>
<ellipse cx="750.9" cy="462.1" rx="10.7" ry="3.6" fill="#bdbbb6"/>
<ellipse cx="750.9" cy="458.1" rx="11.8" ry="3.6" fill="url(#gCapG)"/>
<ellipse cx="458.2" cy="462.7" rx="11.5" ry="4" fill="#bdbbb6"/>
<ellipse cx="458.2" cy="458.3" rx="12.8" ry="4" fill="url(#gCapG)"/>
<ellipse cx="788.5" cy="462.8" rx="10.6" ry="3.6" fill="#bdbbb6"/>
<ellipse cx="788.5" cy="458.8" rx="11.7" ry="3.6" fill="url(#gCapG)"/>
<ellipse cx="498.8" cy="463.3" rx="11.4" ry="3.9" fill="#bdbbb6"/>
<ellipse cx="498.8" cy="458.9" rx="12.7" ry="3.9" fill="url(#gCapG)"/>
<ellipse cx="825.7" cy="463.5" rx="10.5" ry="3.6" fill="#bdbbb6"/>
<ellipse cx="825.7" cy="459.5" rx="11.6" ry="3.6" fill="url(#gCapG)"/>
<ellipse cx="862.6" cy="464.2" rx="10.4" ry="3.5" fill="#bdbbb6"/>
<ellipse cx="862.6" cy="460.3" rx="11.5" ry="3.5" fill="url(#gCapG)"/>
<ellipse cx="899.2" cy="464.9" rx="10.3" ry="3.5" fill="#bdbbb6"/>
<ellipse cx="899.2" cy="461" rx="11.5" ry="3.5" fill="url(#gCapG)"/>
<rect x="253.6" y="461.5" width="27.1" height="76.2" fill="url(#gCyl)"/>
<ellipse cx="267.2" cy="537.6" rx="13.6" ry="3.4" fill="#9fd0f0"/>
<rect x="253" y="497.3" width="28.3" height="9.9" fill="url(#gBand)"/>
<ellipse cx="267.2" cy="461.5" rx="13.6" ry="4.3" fill="url(#gCapB)"/>
<rect x="924.1" y="461.8" width="22.7" height="74.2" fill="url(#gCyl)"/>
<ellipse cx="935.5" cy="536" rx="11.4" ry="2.8" fill="#9fd0f0"/>
<rect x="923.5" y="496.6" width="23.9" height="9.6" fill="url(#gBand)"/>
<ellipse cx="935.5" cy="461.8" rx="11.4" ry="3.5" fill="url(#gCapB)"/>
<rect x="296.9" y="461.9" width="26.8" height="76.3" fill="url(#gCyl)"/>
<ellipse cx="310.3" cy="538.2" rx="13.4" ry="3.4" fill="#9fd0f0"/>
<rect x="296.3" y="497.8" width="28" height="9.9" fill="url(#gBand)"/>
<ellipse cx="310.3" cy="461.9" rx="13.4" ry="4.2" fill="url(#gCapB)"/>
<ellipse cx="353" cy="467" rx="12" ry="4.2" fill="#bdbbb6"/>
<ellipse cx="353" cy="462.4" rx="13.3" ry="4.2" fill="url(#gCapG)"/>
<rect x="960.1" y="462.5" width="22.8" height="74" fill="url(#gCyl)"/>
<ellipse cx="971.5" cy="536.5" rx="11.4" ry="2.8" fill="#9fd0f0"/>
<rect x="959.5" y="497.3" width="24" height="9.6" fill="url(#gBand)"/>
<ellipse cx="971.5" cy="462.5" rx="11.4" ry="3.5" fill="url(#gCapB)"/>
<ellipse cx="734.8" cy="466.8" rx="10.8" ry="3.7" fill="#bdbbb6"/>
<ellipse cx="734.8" cy="462.7" rx="12" ry="3.7" fill="url(#gCapG)"/>
<ellipse cx="395.2" cy="467.5" rx="11.8" ry="4.1" fill="#bdbbb6"/>
<ellipse cx="395.2" cy="462.9" rx="13.1" ry="4.1" fill="url(#gCapG)"/>
<ellipse cx="772.8" cy="467.4" rx="10.7" ry="3.7" fill="#bdbbb6"/>
<ellipse cx="772.8" cy="463.4" rx="11.9" ry="3.7" fill="url(#gCapG)"/>
<ellipse cx="437" cy="468" rx="11.7" ry="4.1" fill="#bdbbb6"/>
<ellipse cx="437" cy="463.5" rx="13" ry="4.1" fill="url(#gCapG)"/>
<ellipse cx="478.4" cy="468.5" rx="11.6" ry="4.1" fill="#bdbbb6"/>
<ellipse cx="478.4" cy="464" rx="12.9" ry="4.1" fill="url(#gCapG)"/>
<ellipse cx="810.6" cy="468.1" rx="10.6" ry="3.7" fill="#bdbbb6"/>
<ellipse cx="810.6" cy="464" rx="11.8" ry="3.7" fill="url(#gCapG)"/>
<ellipse cx="519.3" cy="469" rx="11.5" ry="4" fill="#bdbbb6"/>
<ellipse cx="519.3" cy="464.5" rx="12.8" ry="4" fill="url(#gCapG)"/>
<ellipse cx="848" cy="468.7" rx="10.5" ry="3.6" fill="#bdbbb6"/>
<ellipse cx="848" cy="464.7" rx="11.7" ry="3.6" fill="url(#gCapG)"/>
<ellipse cx="885.1" cy="469.4" rx="10.4" ry="3.6" fill="#bdbbb6"/>
<ellipse cx="885.1" cy="465.4" rx="11.6" ry="3.6" fill="url(#gCapG)"/>
<rect x="910.4" y="466.1" width="23" height="74.9" fill="url(#gCyl)"/>
<ellipse cx="921.9" cy="541" rx="11.5" ry="2.9" fill="#9fd0f0"/>
<rect x="909.8" y="501.3" width="24.2" height="9.7" fill="url(#gBand)"/>
<ellipse cx="921.9" cy="466.1" rx="11.5" ry="3.6" fill="url(#gCapB)"/>
<rect x="946.9" y="466.8" width="23" height="74.7" fill="url(#gCyl)"/>
<ellipse cx="958.4" cy="541.6" rx="11.5" ry="2.8" fill="#9fd0f0"/>
<rect x="946.3" y="501.9" width="24.2" height="9.7" fill="url(#gBand)"/>
<ellipse cx="958.4" cy="466.8" rx="11.5" ry="3.6" fill="url(#gCapB)"/>
<rect x="272.5" y="467.5" width="27.3" height="76.9" fill="url(#gCyl)"/>
<ellipse cx="286.1" cy="544.3" rx="13.7" ry="3.5" fill="#9fd0f0"/>
<rect x="271.9" y="503.6" width="28.5" height="10" fill="url(#gBand)"/>
<ellipse cx="286.1" cy="467.5" rx="13.7" ry="4.3" fill="url(#gCapB)"/>
<rect x="316.1" y="467.9" width="27" height="77" fill="url(#gCyl)"/>
<ellipse cx="329.6" cy="544.9" rx="13.5" ry="3.4" fill="#9fd0f0"/>
<rect x="315.5" y="504.1" width="28.2" height="10" fill="url(#gBand)"/>
<ellipse cx="329.6" cy="467.9" rx="13.5" ry="4.3" fill="url(#gCapB)"/>
<ellipse cx="756.7" cy="472.2" rx="10.9" ry="3.8" fill="#bdbbb6"/>
<ellipse cx="756.7" cy="468.1" rx="12.1" ry="3.8" fill="url(#gCapG)"/>
<ellipse cx="372.6" cy="473" rx="12" ry="4.3" fill="#bdbbb6"/>
<ellipse cx="372.6" cy="468.3" rx="13.4" ry="4.3" fill="url(#gCapG)"/>
<ellipse cx="795" cy="472.8" rx="10.8" ry="3.8" fill="#bdbbb6"/>
<ellipse cx="795" cy="468.7" rx="12" ry="3.8" fill="url(#gCapG)"/>
<ellipse cx="415.1" cy="473.4" rx="11.9" ry="4.2" fill="#bdbbb6"/>
<ellipse cx="415.1" cy="468.8" rx="13.2" ry="4.2" fill="url(#gCapG)"/>
<ellipse cx="457.2" cy="473.8" rx="11.8" ry="4.2" fill="#bdbbb6"/>
<ellipse cx="457.2" cy="469.3" rx="13.1" ry="4.2" fill="url(#gCapG)"/>
<ellipse cx="832.9" cy="473.4" rx="10.7" ry="3.7" fill="#bdbbb6"/>
<ellipse cx="832.9" cy="469.3" rx="11.9" ry="3.7" fill="url(#gCapG)"/>
<ellipse cx="498.8" cy="474.3" rx="11.7" ry="4.1" fill="#bdbbb6"/>
<ellipse cx="498.8" cy="469.7" rx="13" ry="4.1" fill="url(#gCapG)"/>
<ellipse cx="870.6" cy="474" rx="10.6" ry="3.7" fill="#bdbbb6"/>
<ellipse cx="870.6" cy="470" rx="11.8" ry="3.7" fill="url(#gCapG)"/>
<ellipse cx="540" cy="474.7" rx="11.6" ry="4.1" fill="#bdbbb6"/>
<ellipse cx="540" cy="470.2" rx="12.8" ry="4.1" fill="url(#gCapG)"/>
<rect x="896.2" y="470.6" width="23.3" height="75.7" fill="url(#gCyl)"/>
<ellipse cx="907.8" cy="546.3" rx="11.7" ry="2.9" fill="#9fd0f0"/>
<rect x="895.6" y="506.2" width="24.5" height="9.8" fill="url(#gBand)"/>
<ellipse cx="907.8" cy="470.6" rx="11.7" ry="3.7" fill="url(#gCapB)"/>
<rect x="933.2" y="471.3" width="23.3" height="75.5" fill="url(#gCyl)"/>
<ellipse cx="944.8" cy="546.7" rx="11.6" ry="2.9" fill="#9fd0f0"/>
<rect x="932.6" y="506.7" width="24.5" height="9.8" fill="url(#gBand)"/>
<ellipse cx="944.8" cy="471.3" rx="11.6" ry="3.6" fill="url(#gCapB)"/>
<ellipse cx="740" cy="477.2" rx="11" ry="3.9" fill="#bdbbb6"/>
<ellipse cx="740" cy="472.9" rx="12.3" ry="3.9" fill="url(#gCapG)"/>
<ellipse cx="778.9" cy="477.7" rx="10.9" ry="3.9" fill="#bdbbb6"/>
<ellipse cx="778.9" cy="473.5" rx="12.1" ry="3.9" fill="url(#gCapG)"/>
<rect x="291.5" y="473.5" width="27.6" height="77.6" fill="url(#gCyl)"/>
<ellipse cx="305.3" cy="551.1" rx="13.8" ry="3.5" fill="#9fd0f0"/>
<rect x="290.9" y="510" width="28.8" height="10.1" fill="url(#gBand)"/>
<ellipse cx="305.3" cy="473.5" rx="13.8" ry="4.4" fill="url(#gCapB)"/>
<rect x="335.5" y="473.9" width="27.3" height="77.7" fill="url(#gCyl)"/>
<ellipse cx="349.1" cy="551.6" rx="13.6" ry="3.5" fill="#9fd0f0"/>
<rect x="334.9" y="510.4" width="28.5" height="10.1" fill="url(#gBand)"/>
<ellipse cx="349.1" cy="473.9" rx="13.6" ry="4.4" fill="url(#gCapB)"/>
<ellipse cx="817.4" cy="478.3" rx="10.8" ry="3.8" fill="#bdbbb6"/>
<ellipse cx="817.4" cy="474.1" rx="12" ry="3.8" fill="url(#gCapG)"/>
<ellipse cx="392.4" cy="479.1" rx="12.1" ry="4.3" fill="#bdbbb6"/>
<ellipse cx="392.4" cy="474.3" rx="13.5" ry="4.3" fill="url(#gCapG)"/>
<ellipse cx="855.5" cy="478.8" rx="10.7" ry="3.8" fill="#bdbbb6"/>
<ellipse cx="855.5" cy="474.6" rx="11.9" ry="3.8" fill="url(#gCapG)"/>
<ellipse cx="435.2" cy="479.4" rx="12" ry="4.3" fill="#bdbbb6"/>
<ellipse cx="435.2" cy="474.7" rx="13.3" ry="4.3" fill="url(#gCapG)"/>
<ellipse cx="477.6" cy="479.8" rx="11.9" ry="4.2" fill="#bdbbb6"/>
<ellipse cx="477.6" cy="475.1" rx="13.2" ry="4.2" fill="url(#gCapG)"/>
<rect x="881.5" y="475.2" width="23.7" height="76.4" fill="url(#gCyl)"/>
<ellipse cx="893.4" cy="551.6" rx="11.8" ry="3" fill="#9fd0f0"/>
<rect x="880.9" y="511.2" width="24.9" height="9.9" fill="url(#gBand)"/>
<ellipse cx="893.4" cy="475.2" rx="11.8" ry="3.7" fill="url(#gCapB)"/>
<ellipse cx="519.5" cy="480.2" rx="11.8" ry="4.2" fill="#bdbbb6"/>
<ellipse cx="519.5" cy="475.5" rx="13.1" ry="4.2" fill="url(#gCapG)"/>
<rect x="919" y="475.9" width="23.6" height="76.2" fill="url(#gCyl)"/>
<ellipse cx="930.8" cy="552.1" rx="11.8" ry="3" fill="#9fd0f0"/>
<rect x="918.4" y="511.7" width="24.8" height="9.9" fill="url(#gBand)"/>
<ellipse cx="930.8" cy="475.9" rx="11.8" ry="3.7" fill="url(#gCapB)"/>
<ellipse cx="561" cy="480.6" rx="11.6" ry="4.2" fill="#bdbbb6"/>
<ellipse cx="561" cy="476" rx="12.9" ry="4.2" fill="url(#gCapG)"/>
<ellipse cx="722.8" cy="482.3" rx="11.2" ry="4" fill="#bdbbb6"/>
<ellipse cx="722.8" cy="477.9" rx="12.4" ry="4" fill="url(#gCapG)"/>
<ellipse cx="762.3" cy="482.8" rx="11.1" ry="4" fill="#bdbbb6"/>
<ellipse cx="762.3" cy="478.4" rx="12.3" ry="4" fill="url(#gCapG)"/>
<ellipse cx="801.3" cy="483.3" rx="11" ry="3.9" fill="#bdbbb6"/>
<ellipse cx="801.3" cy="479" rx="12.2" ry="3.9" fill="url(#gCapG)"/>
<ellipse cx="840" cy="483.8" rx="10.9" ry="3.9" fill="#bdbbb6"/>
<ellipse cx="840" cy="479.5" rx="12.1" ry="3.9" fill="url(#gCapG)"/>
<rect x="310.8" y="479.7" width="27.8" height="78.3" fill="url(#gCyl)"/>
<ellipse cx="324.7" cy="558" rx="13.9" ry="3.6" fill="#9fd0f0"/>
<rect x="310.2" y="516.5" width="29" height="10.2" fill="url(#gBand)"/>
<ellipse cx="324.7" cy="479.7" rx="13.9" ry="4.5" fill="url(#gCapB)"/>
<rect x="355.1" y="480" width="27.5" height="78.3" fill="url(#gCyl)"/>
<ellipse cx="368.9" cy="558.3" rx="13.7" ry="3.6" fill="#9fd0f0"/>
<rect x="354.5" y="516.8" width="28.7" height="10.2" fill="url(#gBand)"/>
<ellipse cx="368.9" cy="480" rx="13.7" ry="4.5" fill="url(#gCapB)"/>
<rect x="866.4" y="480" width="24" height="77.1" fill="url(#gCyl)"/>
<ellipse cx="878.4" cy="557.2" rx="12" ry="3.1" fill="#9fd0f0"/>
<rect x="865.8" y="516.3" width="25.2" height="10" fill="url(#gBand)"/>
<ellipse cx="878.4" cy="480" rx="12" ry="3.8" fill="url(#gCapB)"/>
<ellipse cx="412.5" cy="485.2" rx="12.2" ry="4.4" fill="#bdbbb6"/>
<ellipse cx="412.5" cy="480.3" rx="13.6" ry="4.4" fill="url(#gCapG)"/>
<rect x="904.5" y="480.6" width="23.9" height="76.9" fill="url(#gCyl)"/>
<ellipse cx="916.4" cy="557.5" rx="12" ry="3.1" fill="#9fd0f0"/>
<rect x="903.9" y="516.8" width="25.1" height="10" fill="url(#gBand)"/>
<ellipse cx="916.4" cy="480.6" rx="12" ry="3.8" fill="url(#gCapB)"/>
<ellipse cx="455.6" cy="485.5" rx="12.1" ry="4.4" fill="#bdbbb6"/>
<ellipse cx="455.6" cy="480.7" rx="13.4" ry="4.4" fill="url(#gCapG)"/>
<ellipse cx="498.3" cy="485.8" rx="12" ry="4.3" fill="#bdbbb6"/>
<ellipse cx="498.3" cy="481" rx="13.3" ry="4.3" fill="url(#gCapG)"/>
<ellipse cx="540.5" cy="486.1" rx="11.8" ry="4.3" fill="#bdbbb6"/>
<ellipse cx="540.5" cy="481.4" rx="13.2" ry="4.3" fill="url(#gCapG)"/>
<ellipse cx="582.3" cy="486.5" rx="11.7" ry="4.2" fill="#bdbbb6"/>
<ellipse cx="582.3" cy="481.8" rx="13" ry="4.2" fill="url(#gCapG)"/>
<ellipse cx="705" cy="487.6" rx="11.4" ry="4.1" fill="#bdbbb6"/>
<ellipse cx="705" cy="483.1" rx="12.6" ry="4.1" fill="url(#gCapG)"/>
<ellipse cx="745.1" cy="488" rx="11.3" ry="4.1" fill="#bdbbb6"/>
<ellipse cx="745.1" cy="483.5" rx="12.5" ry="4.1" fill="url(#gCapG)"/>
<ellipse cx="784.7" cy="488.4" rx="11.2" ry="4" fill="#bdbbb6"/>
<ellipse cx="784.7" cy="484" rx="12.4" ry="4" fill="url(#gCapG)"/>
<ellipse cx="824" cy="488.9" rx="11" ry="4" fill="#bdbbb6"/>
<ellipse cx="824" cy="484.5" rx="12.3" ry="4" fill="url(#gCapG)"/>
<rect x="850.8" y="485" width="24.3" height="77.8" fill="url(#gCyl)"/>
<ellipse cx="863" cy="562.8" rx="12.2" ry="3.2" fill="#9fd0f0"/>
<rect x="850.2" y="521.6" width="25.5" height="10.1" fill="url(#gBand)"/>
<ellipse cx="863" cy="485" rx="12.2" ry="3.9" fill="url(#gCapB)"/>
<rect x="889.4" y="485.5" width="24.3" height="77.7" fill="url(#gCyl)"/>
<ellipse cx="901.5" cy="563.2" rx="12.1" ry="3.1" fill="#9fd0f0"/>
<rect x="888.8" y="522" width="25.5" height="10.1" fill="url(#gBand)"/>
<ellipse cx="901.5" cy="485.5" rx="12.1" ry="3.9" fill="url(#gCapB)"/>
<rect x="330.4" y="485.9" width="28" height="79" fill="url(#gCyl)"/>
<ellipse cx="344.4" cy="564.9" rx="14" ry="3.7" fill="#9fd0f0"/>
<rect x="329.8" y="523.1" width="29.2" height="10.3" fill="url(#gBand)"/>
<ellipse cx="344.4" cy="485.9" rx="14" ry="4.6" fill="url(#gCapB)"/>
<rect x="375.1" y="486.2" width="27.7" height="79" fill="url(#gCyl)"/>
<ellipse cx="388.9" cy="565.2" rx="13.8" ry="3.6" fill="#9fd0f0"/>
<rect x="374.5" y="523.3" width="28.9" height="10.3" fill="url(#gBand)"/>
<ellipse cx="388.9" cy="486.2" rx="13.8" ry="4.5" fill="url(#gCapB)"/>
<ellipse cx="432.8" cy="491.4" rx="12.3" ry="4.5" fill="#bdbbb6"/>
<ellipse cx="432.8" cy="486.5" rx="13.7" ry="4.5" fill="url(#gCapG)"/>
<ellipse cx="476.3" cy="491.6" rx="12.2" ry="4.4" fill="#bdbbb6"/>
<ellipse cx="476.3" cy="486.7" rx="13.5" ry="4.4" fill="url(#gCapG)"/>
<ellipse cx="519.3" cy="491.9" rx="12" ry="4.4" fill="#bdbbb6"/>
<ellipse cx="519.3" cy="487.1" rx="13.4" ry="4.4" fill="url(#gCapG)"/>
<ellipse cx="561.8" cy="492.2" rx="11.9" ry="4.3" fill="#bdbbb6"/>
<ellipse cx="561.8" cy="487.4" rx="13.2" ry="4.3" fill="url(#gCapG)"/>
<ellipse cx="603.8" cy="492.5" rx="11.8" ry="4.3" fill="#bdbbb6"/>
<ellipse cx="603.8" cy="487.7" rx="13.1" ry="4.3" fill="url(#gCapG)"/>
<ellipse cx="686.5" cy="493.1" rx="11.6" ry="4.2" fill="#bdbbb6"/>
<ellipse cx="686.5" cy="488.5" rx="12.8" ry="4.2" fill="url(#gCapG)"/>
<ellipse cx="727.3" cy="493.4" rx="11.4" ry="4.2" fill="#bdbbb6"/>
<ellipse cx="727.3" cy="488.8" rx="12.7" ry="4.2" fill="url(#gCapG)"/>
<ellipse cx="767.6" cy="493.8" rx="11.3" ry="4.1" fill="#bdbbb6"/>
<ellipse cx="767.6" cy="489.2" rx="12.6" ry="4.1" fill="url(#gCapG)"/>
<ellipse cx="807.5" cy="494.2" rx="11.2" ry="4.1" fill="#bdbbb6"/>
<ellipse cx="807.5" cy="489.7" rx="12.5" ry="4.1" fill="url(#gCapG)"/>
<rect x="834.7" y="490.1" width="24.7" height="78.6" fill="url(#gCyl)"/>
<ellipse cx="847" cy="568.7" rx="12.3" ry="3.2" fill="#9fd0f0"/>
<rect x="834.1" y="527" width="25.9" height="10.2" fill="url(#gBand)"/>
<ellipse cx="847" cy="490.1" rx="12.3" ry="4" fill="url(#gCapB)"/>
<rect x="873.8" y="490.5" width="24.6" height="78.4" fill="url(#gCyl)"/>
<ellipse cx="886.1" cy="569" rx="12.3" ry="3.2" fill="#9fd0f0"/>
<rect x="873.2" y="527.4" width="25.8" height="10.2" fill="url(#gBand)"/>
<ellipse cx="886.1" cy="490.5" rx="12.3" ry="4" fill="url(#gCapB)"/>
<rect x="350.3" y="492.3" width="28.2" height="79.7" fill="url(#gCyl)"/>
<ellipse cx="364.4" cy="571.9" rx="14.1" ry="3.7" fill="#9fd0f0"/>
<rect x="349.7" y="529.7" width="29.4" height="10.4" fill="url(#gBand)"/>
<ellipse cx="364.4" cy="492.3" rx="14.1" ry="4.7" fill="url(#gCapB)"/>
<rect x="395.2" y="492.5" width="27.9" height="79.7" fill="url(#gCyl)"/>
<ellipse cx="409.2" cy="572.2" rx="13.9" ry="3.7" fill="#9fd0f0"/>
<rect x="394.6" y="529.9" width="29.1" height="10.4" fill="url(#gBand)"/>
<ellipse cx="409.2" cy="492.5" rx="13.9" ry="4.6" fill="url(#gCapB)"/>
<ellipse cx="453.5" cy="497.7" rx="12.4" ry="4.6" fill="#bdbbb6"/>
<ellipse cx="453.5" cy="492.7" rx="13.8" ry="4.6" fill="url(#gCapG)"/>
<ellipse cx="497.2" cy="497.9" rx="12.3" ry="4.5" fill="#bdbbb6"/>
<ellipse cx="497.2" cy="492.9" rx="13.6" ry="4.5" fill="url(#gCapG)"/>
<ellipse cx="540.5" cy="498.1" rx="12.1" ry="4.5" fill="#bdbbb6"/>
<ellipse cx="540.5" cy="493.1" rx="13.5" ry="4.5" fill="url(#gCapG)"/>
<ellipse cx="583.3" cy="498.3" rx="12" ry="4.4" fill="#bdbbb6"/>
<ellipse cx="583.3" cy="493.4" rx="13.3" ry="4.4" fill="url(#gCapG)"/>
<ellipse cx="625.6" cy="498.5" rx="11.9" ry="4.4" fill="#bdbbb6"/>
<ellipse cx="625.6" cy="493.7" rx="13.2" ry="4.4" fill="url(#gCapG)"/>
<ellipse cx="667.4" cy="498.8" rx="11.7" ry="4.3" fill="#bdbbb6"/>
<ellipse cx="667.4" cy="494" rx="13" ry="4.3" fill="url(#gCapG)"/>
<ellipse cx="708.8" cy="499" rx="11.6" ry="4.3" fill="#bdbbb6"/>
<ellipse cx="708.8" cy="494.3" rx="12.9" ry="4.3" fill="url(#gCapG)"/>
<ellipse cx="749.8" cy="499.3" rx="11.5" ry="4.2" fill="#bdbbb6"/>
<ellipse cx="749.8" cy="494.7" rx="12.8" ry="4.2" fill="url(#gCapG)"/>
<ellipse cx="790.4" cy="499.6" rx="11.4" ry="4.2" fill="#bdbbb6"/>
<ellipse cx="790.4" cy="495" rx="12.7" ry="4.2" fill="url(#gCapG)"/>
<rect x="818" y="495.4" width="25.1" height="79.3" fill="url(#gCyl)"/>
<ellipse cx="830.5" cy="574.7" rx="12.5" ry="3.3" fill="#9fd0f0"/>
<rect x="817.4" y="532.7" width="26.3" height="10.3" fill="url(#gBand)"/>
<ellipse cx="830.5" cy="495.4" rx="12.5" ry="4.2" fill="url(#gCapB)"/>
<rect x="857.7" y="495.8" width="25" height="79.2" fill="url(#gCyl)"/>
<ellipse cx="870.2" cy="574.9" rx="12.5" ry="3.3" fill="#9fd0f0"/>
<rect x="857.1" y="533" width="26.2" height="10.3" fill="url(#gBand)"/>
<ellipse cx="870.2" cy="495.8" rx="12.5" ry="4.1" fill="url(#gCapB)"/>
<rect x="370.4" y="498.7" width="28.4" height="80.3" fill="url(#gCyl)"/>
<ellipse cx="384.6" cy="579" rx="14.2" ry="3.8" fill="#9fd0f0"/>
<rect x="369.8" y="536.5" width="29.6" height="10.4" fill="url(#gBand)"/>
<ellipse cx="384.6" cy="498.7" rx="14.2" ry="4.8" fill="url(#gCapB)"/>
<rect x="415.7" y="498.8" width="28.1" height="80.4" fill="url(#gCyl)"/>
<ellipse cx="429.8" cy="579.2" rx="14" ry="3.8" fill="#9fd0f0"/>
<rect x="415.1" y="536.6" width="29.3" height="10.5" fill="url(#gBand)"/>
<ellipse cx="429.8" cy="498.8" rx="14" ry="4.7" fill="url(#gCapB)"/>
<ellipse cx="474.4" cy="504.1" rx="12.5" ry="4.7" fill="#bdbbb6"/>
<ellipse cx="474.4" cy="499" rx="13.9" ry="4.7" fill="url(#gCapG)"/>
<ellipse cx="518.4" cy="504.2" rx="12.3" ry="4.6" fill="#bdbbb6"/>
<ellipse cx="518.4" cy="499.1" rx="13.7" ry="4.6" fill="url(#gCapG)"/>
<ellipse cx="562" cy="504.3" rx="12.2" ry="4.6" fill="#bdbbb6"/>
<ellipse cx="562" cy="499.3" rx="13.6" ry="4.6" fill="url(#gCapG)"/>
<ellipse cx="605.1" cy="504.5" rx="12.1" ry="4.5" fill="#bdbbb6"/>
<ellipse cx="605.1" cy="499.5" rx="13.4" ry="4.5" fill="url(#gCapG)"/>
<ellipse cx="647.7" cy="504.7" rx="11.9" ry="4.5" fill="#bdbbb6"/>
<ellipse cx="647.7" cy="499.7" rx="13.3" ry="4.5" fill="url(#gCapG)"/>
<ellipse cx="689.8" cy="504.8" rx="11.8" ry="4.4" fill="#bdbbb6"/>
<ellipse cx="689.8" cy="500" rx="13.1" ry="4.4" fill="url(#gCapG)"/>
<ellipse cx="731.4" cy="505.1" rx="11.7" ry="4.4" fill="#bdbbb6"/>
<ellipse cx="731.4" cy="500.3" rx="13" ry="4.4" fill="url(#gCapG)"/>
<ellipse cx="772.6" cy="505.3" rx="11.6" ry="4.3" fill="#bdbbb6"/>
<ellipse cx="772.6" cy="500.5" rx="12.9" ry="4.3" fill="url(#gCapG)"/>
<rect x="800.7" y="500.8" width="25.5" height="80" fill="url(#gCyl)"/>
<ellipse cx="813.4" cy="580.9" rx="12.7" ry="3.4" fill="#9fd0f0"/>
<rect x="800.1" y="538.5" width="26.7" height="10.4" fill="url(#gBand)"/>
<ellipse cx="813.4" cy="500.8" rx="12.7" ry="4.3" fill="url(#gCapB)"/>
<rect x="841.1" y="501.2" width="25.4" height="79.9" fill="url(#gCyl)"/>
<ellipse cx="853.8" cy="581.1" rx="12.7" ry="3.4" fill="#9fd0f0"/>
<rect x="840.5" y="538.7" width="26.6" height="10.4" fill="url(#gBand)"/>
<ellipse cx="853.8" cy="501.2" rx="12.7" ry="4.2" fill="url(#gCapB)"/>
<rect x="390.8" y="505.2" width="28.6" height="81" fill="url(#gCyl)"/>
<ellipse cx="405.1" cy="586.2" rx="14.3" ry="3.9" fill="#9fd0f0"/>
<rect x="390.2" y="543.3" width="29.8" height="10.5" fill="url(#gBand)"/>
<ellipse cx="405.1" cy="505.2" rx="14.3" ry="4.9" fill="url(#gCapB)"/>
<rect x="436.5" y="505.3" width="28.3" height="81.1" fill="url(#gCyl)"/>
<ellipse cx="450.6" cy="586.3" rx="14.1" ry="3.8" fill="#9fd0f0"/>
<rect x="435.9" y="543.4" width="29.5" height="10.5" fill="url(#gBand)"/>
<ellipse cx="450.6" cy="505.3" rx="14.1" ry="4.8" fill="url(#gCapB)"/>
<ellipse cx="495.5" cy="510.6" rx="12.6" ry="4.8" fill="#bdbbb6"/>
<ellipse cx="495.5" cy="505.3" rx="14" ry="4.8" fill="url(#gCapG)"/>
<ellipse cx="539.9" cy="510.6" rx="12.4" ry="4.7" fill="#bdbbb6"/>
<ellipse cx="539.9" cy="505.4" rx="13.8" ry="4.7" fill="url(#gCapG)"/>
<ellipse cx="583.8" cy="510.7" rx="12.3" ry="4.6" fill="#bdbbb6"/>
<ellipse cx="583.8" cy="505.6" rx="13.7" ry="4.6" fill="url(#gCapG)"/>
<ellipse cx="627.2" cy="510.8" rx="12.2" ry="4.6" fill="#bdbbb6"/>
<ellipse cx="627.2" cy="505.7" rx="13.5" ry="4.6" fill="url(#gCapG)"/>
<ellipse cx="670" cy="510.9" rx="12" ry="4.5" fill="#bdbbb6"/>
<ellipse cx="670" cy="505.9" rx="13.4" ry="4.5" fill="url(#gCapG)"/>
<ellipse cx="712.4" cy="511" rx="11.9" ry="4.5" fill="#bdbbb6"/>
<ellipse cx="712.4" cy="506.1" rx="13.2" ry="4.5" fill="url(#gCapG)"/>
<ellipse cx="754.3" cy="511.2" rx="11.8" ry="4.4" fill="#bdbbb6"/>
<ellipse cx="754.3" cy="506.3" rx="13.1" ry="4.4" fill="url(#gCapG)"/>
<rect x="782.8" y="506.5" width="25.9" height="80.8" fill="url(#gCyl)"/>
<ellipse cx="795.8" cy="587.3" rx="12.9" ry="3.5" fill="#9fd0f0"/>
<rect x="782.2" y="544.5" width="27.1" height="10.5" fill="url(#gBand)"/>
<ellipse cx="795.8" cy="506.5" rx="12.9" ry="4.4" fill="url(#gCapB)"/>
<rect x="823.9" y="506.8" width="25.8" height="80.6" fill="url(#gCyl)"/>
<ellipse cx="836.8" cy="587.4" rx="12.9" ry="3.5" fill="#9fd0f0"/>
<rect x="823.3" y="544.7" width="27" height="10.5" fill="url(#gBand)"/>
<ellipse cx="836.8" cy="506.8" rx="12.9" ry="4.4" fill="url(#gCapB)"/>
<rect x="457.5" y="511.8" width="28.5" height="81.8" fill="url(#gCyl)"/>
<ellipse cx="471.8" cy="593.5" rx="14.2" ry="3.9" fill="#9fd0f0"/>
<rect x="456.9" y="550.2" width="29.7" height="10.6" fill="url(#gBand)"/>
<ellipse cx="471.8" cy="511.8" rx="14.2" ry="4.9" fill="url(#gCapB)"/>
<rect x="411.5" y="511.8" width="28.8" height="81.7" fill="url(#gCyl)"/>
<ellipse cx="425.9" cy="593.5" rx="14.4" ry="4" fill="#9fd0f0"/>
<rect x="410.9" y="550.2" width="30" height="10.6" fill="url(#gBand)"/>
<ellipse cx="425.9" cy="511.8" rx="14.4" ry="5" fill="url(#gCapB)"/>
<ellipse cx="517" cy="517.1" rx="12.7" ry="4.8" fill="#bdbbb6"/>
<ellipse cx="517" cy="511.8" rx="14.1" ry="4.8" fill="url(#gCapG)"/>
<ellipse cx="561.7" cy="517.1" rx="12.5" ry="4.8" fill="#bdbbb6"/>
<ellipse cx="561.7" cy="511.8" rx="13.9" ry="4.8" fill="url(#gCapG)"/>
<ellipse cx="605.9" cy="517.1" rx="12.4" ry="4.7" fill="#bdbbb6"/>
<ellipse cx="605.9" cy="511.9" rx="13.7" ry="4.7" fill="url(#gCapG)"/>
<ellipse cx="649.5" cy="517.1" rx="12.2" ry="4.7" fill="#bdbbb6"/>
<ellipse cx="649.5" cy="512" rx="13.6" ry="4.7" fill="url(#gCapG)"/>
<ellipse cx="692.6" cy="517.2" rx="12.1" ry="4.6" fill="#bdbbb6"/>
<ellipse cx="692.6" cy="512.1" rx="13.4" ry="4.6" fill="url(#gCapG)"/>
<ellipse cx="735.3" cy="517.2" rx="12" ry="4.6" fill="#bdbbb6"/>
<ellipse cx="735.3" cy="512.2" rx="13.3" ry="4.6" fill="url(#gCapG)"/>
<rect x="764.3" y="512.4" width="26.3" height="81.5" fill="url(#gCyl)"/>
<ellipse cx="777.5" cy="593.9" rx="13.2" ry="3.6" fill="#9fd0f0"/>
<rect x="763.7" y="550.7" width="27.5" height="10.6" fill="url(#gBand)"/>
<ellipse cx="777.5" cy="512.4" rx="13.2" ry="4.5" fill="url(#gCapB)"/>
<rect x="806.1" y="512.5" width="26.2" height="81.4" fill="url(#gCyl)"/>
<ellipse cx="819.2" cy="593.9" rx="13.1" ry="3.6" fill="#9fd0f0"/>
<rect x="805.5" y="550.8" width="27.4" height="10.6" fill="url(#gBand)"/>
<ellipse cx="819.2" cy="512.5" rx="13.1" ry="4.5" fill="url(#gCapB)"/>
<ellipse cx="628.2" cy="523.6" rx="12.5" ry="4.8" fill="#bdbbb6"/>
<ellipse cx="628.2" cy="518.3" rx="13.8" ry="4.8" fill="url(#gCapG)"/>
<ellipse cx="583.8" cy="523.7" rx="12.6" ry="4.9" fill="#bdbbb6"/>
<ellipse cx="583.8" cy="518.3" rx="14" ry="4.9" fill="url(#gCapG)"/>
<ellipse cx="672.2" cy="523.6" rx="12.3" ry="4.8" fill="#bdbbb6"/>
<ellipse cx="672.2" cy="518.3" rx="13.7" ry="4.8" fill="url(#gCapG)"/>
<ellipse cx="538.8" cy="523.8" rx="12.8" ry="4.9" fill="#bdbbb6"/>
<ellipse cx="538.8" cy="518.3" rx="14.2" ry="4.9" fill="url(#gCapG)"/>
<ellipse cx="715.6" cy="523.5" rx="12.2" ry="4.7" fill="#bdbbb6"/>
<ellipse cx="715.6" cy="518.4" rx="13.5" ry="4.7" fill="url(#gCapG)"/>
<rect x="478.8" y="518.4" width="28.7" height="82.5" fill="url(#gCyl)"/>
<ellipse cx="493.2" cy="600.9" rx="14.3" ry="4" fill="#9fd0f0"/>
<rect x="478.2" y="557.2" width="29.9" height="10.7" fill="url(#gBand)"/>
<ellipse cx="493.2" cy="518.4" rx="14.3" ry="5" fill="url(#gCapB)"/>
<rect x="745.1" y="518.4" width="26.8" height="82.2" fill="url(#gCyl)"/>
<ellipse cx="758.5" cy="600.7" rx="13.4" ry="3.7" fill="#9fd0f0"/>
<rect x="744.5" y="557.1" width="28" height="10.7" fill="url(#gBand)"/>
<ellipse cx="758.5" cy="518.4" rx="13.4" ry="4.6" fill="url(#gCapB)"/>
<rect x="432.5" y="518.5" width="29.1" height="82.4" fill="url(#gCyl)"/>
<ellipse cx="447" cy="600.9" rx="14.5" ry="4" fill="#9fd0f0"/>
<rect x="431.9" y="557.2" width="30.3" height="10.7" fill="url(#gBand)"/>
<ellipse cx="447" cy="518.5" rx="14.5" ry="5.1" fill="url(#gCapB)"/>
<rect x="787.6" y="518.5" width="26.6" height="82.1" fill="url(#gCyl)"/>
<ellipse cx="800.9" cy="600.6" rx="13.3" ry="3.7" fill="#9fd0f0"/>
<rect x="787" y="557.1" width="27.8" height="10.7" fill="url(#gBand)"/>
<ellipse cx="800.9" cy="518.5" rx="13.3" ry="4.6" fill="url(#gCapB)"/>
<rect x="725.2" y="524.8" width="27.2" height="82.9" fill="url(#gCyl)"/>
<ellipse cx="738.8" cy="607.7" rx="13.6" ry="3.8" fill="#9fd0f0"/>
<rect x="724.6" y="563.7" width="28.4" height="10.8" fill="url(#gBand)"/>
<ellipse cx="738.8" cy="524.8" rx="13.6" ry="4.8" fill="url(#gCapB)"/>
<rect x="768.4" y="524.8" width="27.1" height="82.8" fill="url(#gCyl)"/>
<ellipse cx="782" cy="607.6" rx="13.5" ry="3.8" fill="#9fd0f0"/>
<rect x="767.8" y="563.7" width="28.3" height="10.8" fill="url(#gBand)"/>
<ellipse cx="782" cy="524.8" rx="13.5" ry="4.8" fill="url(#gCapB)"/>
<ellipse cx="695.1" cy="530.1" rx="12.4" ry="4.8" fill="#bdbbb6"/>
<ellipse cx="695.1" cy="524.8" rx="13.8" ry="4.8" fill="url(#gCapG)"/>
<ellipse cx="650.9" cy="530.2" rx="12.5" ry="4.9" fill="#bdbbb6"/>
<ellipse cx="650.9" cy="524.8" rx="13.9" ry="4.9" fill="url(#gCapG)"/>
<ellipse cx="606.2" cy="530.3" rx="12.7" ry="5" fill="#bdbbb6"/>
<ellipse cx="606.2" cy="524.9" rx="14.1" ry="5" fill="url(#gCapG)"/>
<ellipse cx="560.8" cy="530.5" rx="12.8" ry="5" fill="#bdbbb6"/>
<ellipse cx="560.8" cy="525" rx="14.3" ry="5" fill="url(#gCapG)"/>
<rect x="500.5" y="525.1" width="28.9" height="83.1" fill="url(#gCyl)"/>
<ellipse cx="514.9" cy="608.3" rx="14.5" ry="4.1" fill="#9fd0f0"/>
<rect x="499.9" y="564.2" width="30.1" height="10.8" fill="url(#gBand)"/>
<ellipse cx="514.9" cy="525.1" rx="14.5" ry="5.1" fill="url(#gCapB)"/>
<rect x="453.8" y="525.3" width="29.3" height="83.1" fill="url(#gCyl)"/>
<ellipse cx="468.4" cy="608.4" rx="14.6" ry="4.1" fill="#9fd0f0"/>
<rect x="453.2" y="564.3" width="30.5" height="10.8" fill="url(#gBand)"/>
<ellipse cx="468.4" cy="525.3" rx="14.6" ry="5.2" fill="url(#gCapB)"/>
<rect x="748.6" y="531.2" width="27.5" height="83.6" fill="url(#gCyl)"/>
<ellipse cx="762.3" cy="614.8" rx="13.8" ry="3.9" fill="#9fd0f0"/>
<rect x="748" y="570.5" width="28.7" height="10.9" fill="url(#gBand)"/>
<ellipse cx="762.3" cy="531.2" rx="13.8" ry="4.9" fill="url(#gCapB)"/>
<rect x="704.5" y="531.3" width="27.7" height="83.7" fill="url(#gCyl)"/>
<ellipse cx="718.4" cy="615" rx="13.9" ry="3.9" fill="#9fd0f0"/>
<rect x="703.9" y="570.6" width="28.9" height="10.9" fill="url(#gBand)"/>
<ellipse cx="718.4" cy="531.3" rx="13.9" ry="4.9" fill="url(#gCapB)"/>
<ellipse cx="673.9" cy="536.9" rx="12.6" ry="5" fill="#bdbbb6"/>
<ellipse cx="673.9" cy="531.4" rx="14" ry="5" fill="url(#gCapG)"/>
<ellipse cx="628.8" cy="537.1" rx="12.8" ry="5.1" fill="#bdbbb6"/>
<ellipse cx="628.8" cy="531.5" rx="14.2" ry="5.1" fill="url(#gCapG)"/>
<ellipse cx="583.2" cy="537.3" rx="12.9" ry="5.1" fill="#bdbbb6"/>
<ellipse cx="583.2" cy="531.7" rx="14.4" ry="5.1" fill="url(#gCapG)"/>
<rect x="522.4" y="531.9" width="29.1" height="83.8" fill="url(#gCyl)"/>
<ellipse cx="537" cy="615.7" rx="14.6" ry="4.2" fill="#9fd0f0"/>
<rect x="521.8" y="571.3" width="30.3" height="10.9" fill="url(#gBand)"/>
<ellipse cx="537" cy="531.9" rx="14.6" ry="5.2" fill="url(#gCapB)"/>
<rect x="475.4" y="532.1" width="29.5" height="83.8" fill="url(#gCyl)"/>
<ellipse cx="490.1" cy="616" rx="14.7" ry="4.2" fill="#9fd0f0"/>
<rect x="474.8" y="571.5" width="30.7" height="10.9" fill="url(#gBand)"/>
<ellipse cx="490.1" cy="532.1" rx="14.7" ry="5.3" fill="url(#gCapB)"/>
<rect x="727.9" y="537.9" width="28" height="84.3" fill="url(#gCyl)"/>
<ellipse cx="742" cy="622.2" rx="14" ry="4" fill="#9fd0f0"/>
<rect x="727.3" y="577.5" width="29.2" height="11" fill="url(#gBand)"/>
<ellipse cx="742" cy="537.9" rx="14" ry="5" fill="url(#gCapB)"/>
<rect x="683.1" y="538.1" width="28.2" height="84.4" fill="url(#gCyl)"/>
<ellipse cx="697.2" cy="622.5" rx="14.1" ry="4.1" fill="#9fd0f0"/>
<rect x="682.5" y="577.7" width="29.4" height="11" fill="url(#gBand)"/>
<ellipse cx="697.2" cy="538.1" rx="14.1" ry="5.1" fill="url(#gCapB)"/>
<ellipse cx="651.8" cy="544" rx="12.9" ry="5.2" fill="#bdbbb6"/>
<ellipse cx="651.8" cy="538.3" rx="14.3" ry="5.2" fill="url(#gCapG)"/>
<ellipse cx="605.9" cy="544.3" rx="13" ry="5.2" fill="#bdbbb6"/>
<ellipse cx="605.9" cy="538.5" rx="14.5" ry="5.2" fill="url(#gCapG)"/>
<rect x="544.7" y="538.8" width="29.3" height="84.5" fill="url(#gCyl)"/>
<ellipse cx="559.3" cy="623.3" rx="14.7" ry="4.2" fill="#9fd0f0"/>
<rect x="544.1" y="578.5" width="30.5" height="11" fill="url(#gBand)"/>
<ellipse cx="559.3" cy="538.8" rx="14.7" ry="5.3" fill="url(#gCapB)"/>
<rect x="497.3" y="539.1" width="29.7" height="84.5" fill="url(#gCyl)"/>
<ellipse cx="512.2" cy="623.7" rx="14.9" ry="4.3" fill="#9fd0f0"/>
<rect x="496.7" y="578.9" width="30.9" height="11" fill="url(#gBand)"/>
<ellipse cx="512.2" cy="539.1" rx="14.9" ry="5.4" fill="url(#gCapB)"/>
<rect x="706.5" y="544.9" width="28.6" height="85.1" fill="url(#gCyl)"/>
<ellipse cx="720.8" cy="629.9" rx="14.3" ry="4.2" fill="#9fd0f0"/>
<rect x="705.9" y="584.8" width="29.8" height="11.1" fill="url(#gBand)"/>
<ellipse cx="720.8" cy="544.9" rx="14.3" ry="5.2" fill="url(#gCapB)"/>
<rect x="660.8" y="545.1" width="28.8" height="85.1" fill="url(#gCyl)"/>
<ellipse cx="675.1" cy="630.3" rx="14.4" ry="4.2" fill="#9fd0f0"/>
<rect x="660.2" y="585.1" width="30" height="11.1" fill="url(#gBand)"/>
<ellipse cx="675.1" cy="545.1" rx="14.4" ry="5.3" fill="url(#gCapB)"/>
<ellipse cx="628.9" cy="551.3" rx="13.1" ry="5.3" fill="#bdbbb6"/>
<ellipse cx="628.9" cy="545.5" rx="14.6" ry="5.3" fill="url(#gCapG)"/>
<rect x="567.3" y="545.8" width="29.5" height="85.2" fill="url(#gCyl)"/>
<ellipse cx="582" cy="631" rx="14.8" ry="4.3" fill="#9fd0f0"/>
<rect x="566.7" y="585.9" width="30.7" height="11.1" fill="url(#gBand)"/>
<ellipse cx="582" cy="545.8" rx="14.8" ry="5.4" fill="url(#gCapB)"/>
<rect x="519.5" y="546.2" width="29.9" height="85.2" fill="url(#gCyl)"/>
<ellipse cx="534.5" cy="631.4" rx="15" ry="4.4" fill="#9fd0f0"/>
<rect x="518.9" y="586.3" width="31.1" height="11.1" fill="url(#gBand)"/>
<ellipse cx="534.5" cy="546.2" rx="15" ry="5.5" fill="url(#gCapB)"/>
<rect x="684.2" y="552.1" width="29.1" height="85.8" fill="url(#gCyl)"/>
<ellipse cx="698.8" cy="637.9" rx="14.6" ry="4.3" fill="#9fd0f0"/>
<rect x="683.6" y="592.4" width="30.3" height="11.2" fill="url(#gBand)"/>
<ellipse cx="698.8" cy="552.1" rx="14.6" ry="5.4" fill="url(#gCapB)"/>
<rect x="637.6" y="552.5" width="29.3" height="85.8" fill="url(#gCyl)"/>
<ellipse cx="652.2" cy="638.3" rx="14.7" ry="4.3" fill="#9fd0f0"/>
<rect x="637" y="592.8" width="30.5" height="11.2" fill="url(#gBand)"/>
<ellipse cx="652.2" cy="552.5" rx="14.7" ry="5.4" fill="url(#gCapB)"/>
<rect x="590.2" y="552.9" width="29.7" height="85.9" fill="url(#gCyl)"/>
<ellipse cx="605" cy="638.8" rx="14.9" ry="4.4" fill="#9fd0f0"/>
<rect x="589.6" y="593.3" width="30.9" height="11.2" fill="url(#gBand)"/>
<ellipse cx="605" cy="552.9" rx="14.9" ry="5.5" fill="url(#gCapB)"/>
<rect x="542.1" y="553.4" width="30.1" height="85.9" fill="url(#gCyl)"/>
<ellipse cx="557.2" cy="639.3" rx="15.1" ry="4.5" fill="#9fd0f0"/>
<rect x="541.5" y="593.8" width="31.3" height="11.2" fill="url(#gBand)"/>
<ellipse cx="557.2" cy="553.4" rx="15.1" ry="5.6" fill="url(#gCapB)"/>
<rect x="661" y="559.6" width="29.7" height="86.5" fill="url(#gCyl)"/>
<ellipse cx="675.9" cy="646.1" rx="14.9" ry="4.4" fill="#9fd0f0"/>
<rect x="660.4" y="600.3" width="30.9" height="11.2" fill="url(#gBand)"/>
<ellipse cx="675.9" cy="559.6" rx="14.9" ry="5.6" fill="url(#gCapB)"/>
<rect x="613.4" y="560.1" width="30" height="86.6" fill="url(#gCyl)"/>
<ellipse cx="628.4" cy="646.7" rx="15" ry="4.5" fill="#9fd0f0"/>
<rect x="612.8" y="600.8" width="31.2" height="11.3" fill="url(#gBand)"/>
<ellipse cx="628.4" cy="560.1" rx="15" ry="5.6" fill="url(#gCapB)"/>
<rect x="565" y="560.7" width="30.4" height="86.6" fill="url(#gCyl)"/>
<ellipse cx="580.2" cy="647.3" rx="15.2" ry="4.6" fill="#9fd0f0"/>
<rect x="564.4" y="601.4" width="31.6" height="11.3" fill="url(#gBand)"/>
<ellipse cx="580.2" cy="560.7" rx="15.2" ry="5.7" fill="url(#gCapB)"/>
<rect x="636.9" y="567.4" width="30.3" height="87.3" fill="url(#gCyl)"/>
<ellipse cx="652" cy="654.7" rx="15.2" ry="4.6" fill="#9fd0f0"/>
<rect x="636.3" y="608.5" width="31.5" height="11.3" fill="url(#gBand)"/>
<ellipse cx="652" cy="567.4" rx="15.2" ry="5.7" fill="url(#gCapB)"/>
<rect x="588.2" y="568.1" width="30.6" height="87.3" fill="url(#gCyl)"/>
<ellipse cx="603.5" cy="655.4" rx="15.3" ry="4.6" fill="#9fd0f0"/>
<rect x="587.6" y="609.1" width="31.8" height="11.3" fill="url(#gBand)"/>
<ellipse cx="603.5" cy="568.1" rx="15.3" ry="5.8" fill="url(#gCapB)"/>
<rect x="611.7" y="575.6" width="31" height="88" fill="url(#gCyl)"/>
<ellipse cx="627.2" cy="663.6" rx="15.5" ry="4.8" fill="#9fd0f0"/>
<rect x="611.1" y="617" width="32.2" height="11.4" fill="url(#gBand)"/>
<ellipse cx="627.2" cy="575.6" rx="15.5" ry="5.9" fill="url(#gCapB)"/>
</g>
<path d="M163.2 347.5 L612 473.5 Q637 480.5 661.9 473.1 L969.4 381.5 L969.4 402.5 L661.9 495.5 Q637 503 612 495.8 L163.2 366.5 Z" fill="url(#g4s)"/>
<path d="M166.1 348.3 Q163.2 347.5 166.1 346.8 L494 273 L966.5 380.8 Q969.4 381.5 966.5 382.4 L661.9 473.1 Q637 480.5 612 473.5 Z" fill="#728c88"/>
<path d="M166.1 348.3 Q163.2 347.5 166.1 346.8 L494 273 L966.5 380.8 Q969.4 381.5 966.5 382.4 L661.9 473.1 Q637 480.5 612 473.5 Z" fill="url(#g4a)"/>
<path d="M166.1 348.3 Q163.2 347.5 166.1 346.8 L494 273 L966.5 380.8 Q969.4 381.5 966.5 382.4 L661.9 473.1 Q637 480.5 612 473.5 Z" fill="url(#g4b)"/>
<path d="M166.1 348.3 Q163.2 347.5 166.1 346.8 L494 273 L966.5 380.8 Q969.4 381.5 966.5 382.4 L661.9 473.1 Q637 480.5 612 473.5 Z" fill="url(#g4rim)"/>
<path d="M155.5 283.5 L619.2 400 Q625 401.5 630.8 400 L976 310 L976 312 L630.8 406.4 Q625 408 619.2 406.5 L155.5 285.5 Z" fill="#b3b09c"/>
<path d="M156.5 283.7 Q155.5 283.5 156.5 283.3 L481.5 219 L975 309.8 Q976 310 975 310.3 L630.8 400 Q625 401.5 619.2 400 Z" fill="url(#pNano)"/>
<path d="M156.5 283.7 Q155.5 283.5 156.5 283.3 L481.5 219 L975 309.8 Q976 310 975 310.3 L630.8 400 Q625 401.5 619.2 400 Z" fill="url(#g3sh)"/>
<path d="M158.5 287 L625 405.5" stroke="#dddbd0" stroke-width="7.5" stroke-linecap="round" stroke-dasharray="0.1 10.75" fill="none"/>
<path d="M625 405.5 L973 313" stroke="#d2d0c4" stroke-width="7.5" stroke-linecap="round" stroke-dasharray="0.1 10.8" fill="none"/>
<path d="M156.5 283.5 L481.5 219" stroke="#c9c6b3" stroke-width="4.5" stroke-linecap="round" stroke-dasharray="0.1 8.5" fill="none"/>
<path d="M975 310 L481.5 219" stroke="#c9c6b3" stroke-width="4.5" stroke-linecap="round" stroke-dasharray="0.1 8.5" fill="none"/>
<path d="M150 181 L601.7 276.9 Q635 284 668.1 276.4 L979.5 204.5 L979.5 242.5 L668 321.6 Q635 330 602 321.9 L150 211 Z" fill="url(#g2s)"/>
<path d="M150 181 L601.7 276.9 Q635 284 668.1 276.4 L979.5 204.5 L979.5 242.5 L668 321.6 Q635 330 602 321.9 L150 211 Z" fill="url(#pSpeck)" opacity=".8"/>
<path d="M158.8 182.9 Q150 181 158.9 179.6 L505 125 L970.6 203 Q979.5 204.5 970.7 206.5 L668.1 276.4 Q635 284 601.7 276.9 Z" fill="url(#g2t)"/>
<g clip-path="url(#cp2top)"><path d="M300 140 L330 175 Q440 235 560 262 Q640 272 720 262 Q820 240 900 185 L960 150 L700 110Z" fill="#3d3a2c" opacity=".5" filter="url(#blur8)"/></g>
<g clip-path="url(#cpCover)">
<rect x="95" y="15" width="945" height="235" fill="url(#gCovBase)"/>
<g clip-path="url(#cpTop)"><g stroke="#2b2e34" opacity=".72" fill="none"><path d="M95 184 L640 178 L1045 156" stroke-width="1.9"/><path d="M95 178.6 L640 172.6 L1045 150.6" stroke-width="1.9"/><path d="M95 173.4 L640 167.4 L1045 145.4" stroke-width="1.8"/><path d="M95 168.3 L640 162.3 L1045 140.3" stroke-width="1.8"/><path d="M95 163.4 L640 157.4 L1045 135.4" stroke-width="1.7"/><path d="M95 158.7 L640 152.7 L1045 130.7" stroke-width="1.7"/><path d="M95 154.1 L640 148.1 L1045 126.1" stroke-width="1.6"/><path d="M95 149.6 L640 143.6 L1045 121.6" stroke-width="1.5"/><path d="M95 145.3 L640 139.3 L1045 117.3" stroke-width="1.5"/><path d="M95 141.2 L640 135.2 L1045 113.2" stroke-width="1.5"/><path d="M95 137.1 L640 131.1 L1045 109.1" stroke-width="1.4"/><path d="M95 133.2 L640 127.2 L1045 105.2" stroke-width="1.4"/><path d="M95 129.5 L640 123.5 L1045 101.5" stroke-width="1.3"/><path d="M95 125.8 L640 119.8 L1045 97.8" stroke-width="1.3"/><path d="M95 122.3 L640 116.3 L1045 94.3" stroke-width="1.2"/><path d="M95 118.9 L640 112.9 L1045 90.9" stroke-width="1.2"/><path d="M95 115.5 L640 109.5 L1045 87.5" stroke-width="1.2"/><path d="M95 112.3 L640 106.3 L1045 84.3" stroke-width="1.1"/><path d="M95 109.2 L640 103.2 L1045 81.2" stroke-width="1.1"/><path d="M95 106.2 L640 100.2 L1045 78.2" stroke-width="1"/><path d="M95 103.3 L640 97.3 L1045 75.3" stroke-width="1"/><path d="M95 100.5 L640 94.5 L1045 72.5" stroke-width="1"/><path d="M95 97.8 L640 91.8 L1045 69.8" stroke-width="1"/><path d="M95 95.1 L640 89.1 L1045 67.1" stroke-width="0.9"/><path d="M95 92.6 L640 86.6 L1045 64.6" stroke-width="0.9"/><path d="M95 90.1 L640 84.1 L1045 62.1" stroke-width="0.9"/><path d="M95 87.7 L640 81.7 L1045 59.7" stroke-width="0.8"/><path d="M95 85.4 L640 79.4 L1045 57.4" stroke-width="0.8"/><path d="M95 83.1 L640 77.1 L1045 55.1" stroke-width="0.8"/><path d="M95 81 L640 75 L1045 53" stroke-width="0.8"/><path d="M95 78.9 L640 72.9 L1045 50.9" stroke-width="0.8"/><path d="M95 76.8 L640 70.8 L1045 48.8" stroke-width="0.8"/><path d="M95 74.7 L640 68.7 L1045 46.7" stroke-width="0.8"/><path d="M95 72.6 L640 66.6 L1045 44.6" stroke-width="0.8"/><path d="M95 70.5 L640 64.5 L1045 42.5" stroke-width="0.8"/><path d="M95 68.4 L640 62.4 L1045 40.4" stroke-width="0.8"/><path d="M95 66.3 L640 60.3 L1045 38.3" stroke-width="0.8"/><path d="M95 64.2 L640 58.2 L1045 36.2" stroke-width="0.8"/><path d="M95 62.1 L640 56.1 L1045 34.1" stroke-width="0.8"/><path d="M95 60 L640 54 L1045 32" stroke-width="0.8"/><path d="M95 57.9 L640 51.9 L1045 29.9" stroke-width="0.8"/><path d="M95 55.8 L640 49.8 L1045 27.8" stroke-width="0.8"/><path d="M95 53.7 L640 47.7 L1045 25.7" stroke-width="0.8"/><path d="M95 51.6 L640 45.6 L1045 23.6" stroke-width="0.8"/><path d="M95 49.5 L640 43.5 L1045 21.5" stroke-width="0.8"/><path d="M95 47.4 L640 41.4 L1045 19.4" stroke-width="0.8"/><path d="M95 45.3 L640 39.3 L1045 17.3" stroke-width="0.8"/><path d="M95 43.2 L640 37.2 L1045 15.2" stroke-width="0.8"/><path d="M95 41.1 L640 35.1 L1045 13.1" stroke-width="0.8"/><path d="M95 39 L640 33 L1045 11" stroke-width="0.8"/><path d="M95 36.9 L640 30.9 L1045 8.9" stroke-width="0.8"/><path d="M95 34.8 L640 28.8 L1045 6.8" stroke-width="0.8"/><path d="M95 32.7 L640 26.7 L1045 4.7" stroke-width="0.8"/></g><g stroke="#24272d" fill="none"><path d="M634 175 L517.9 103" stroke-width="3.6"/><path d="M517.9 103 L375.9 15" stroke-width="2.2"/><path d="M649.4 168.2 L537 99.3" stroke-width="3.6"/><path d="M537 99.3 L399.6 15" stroke-width="2.2"/><path d="M664.5 161.6 L555.8 95.6" stroke-width="3.5"/><path d="M555.8 95.6 L422.9 15" stroke-width="2.2"/><path d="M679.3 155.1 L574.2 92" stroke-width="3.5"/><path d="M574.2 92 L445.8 15" stroke-width="2.2"/><path d="M693.8 148.6 L592.4 88.5" stroke-width="3.4"/><path d="M592.4 88.5 L468.6 15" stroke-width="2.1"/><path d="M708 142.3 L610.3 85" stroke-width="3.4"/><path d="M610.3 85 L491 15" stroke-width="2.1"/><path d="M721.9 136.1 L628 81.6" stroke-width="3.4"/><path d="M628 81.6 L513.2 15" stroke-width="2.1"/><path d="M735.8 130.5 L645.1 78.5" stroke-width="3.3"/><path d="M645.1 78.5 L534.3 15" stroke-width="2.1"/><path d="M749.9 126.2 L661.5 76.2" stroke-width="3.3"/><path d="M661.5 76.2 L553.6 15" stroke-width="2"/><path d="M763.7 122 L677.7 73.9" stroke-width="3.2"/><path d="M677.7 73.9 L572.5 15" stroke-width="2"/><path d="M777.2 117.9 L693.5 71.6" stroke-width="3.2"/><path d="M693.5 71.6 L591.3 15" stroke-width="2"/><path d="M790.5 113.9 L709.1 69.4" stroke-width="3.2"/><path d="M709.1 69.4 L609.7 15" stroke-width="2"/><path d="M803.9 111 L723.9 67.8" stroke-width="3.1"/><path d="M723.9 67.8 L626.1 15" stroke-width="1.9"/><path d="M817 108.1 L738.4 66.2" stroke-width="3.1"/><path d="M738.4 66.2 L642.4 15" stroke-width="1.9"/><path d="M829.9 105.4 L752.7 64.7" stroke-width="3"/><path d="M752.7 64.7 L658.3 15" stroke-width="1.9"/><path d="M842.6 102.6 L766.8 63.2" stroke-width="3"/><path d="M766.8 63.2 L674.1 15" stroke-width="1.9"/><path d="M855.1 100.4 L780.3 61.9" stroke-width="3"/><path d="M780.3 61.9 L688.8 15" stroke-width="1.8"/><path d="M867.5 98.8 L793.1 61.1" stroke-width="2.9"/><path d="M793.1 61.1 L702.1 15" stroke-width="1.8"/><path d="M879.7 97.3 L805.7 60.3" stroke-width="2.9"/><path d="M805.7 60.3 L715.2 15" stroke-width="1.8"/><path d="M891.7 95.8 L818 59.4" stroke-width="2.8"/><path d="M818 59.4 L728 15" stroke-width="1.8"/><path d="M903.5 94.3 L830.2 58.6" stroke-width="2.8"/><path d="M830.2 58.6 L740.6 15" stroke-width="1.7"/><path d="M915.1 92.9 L842.1 57.8" stroke-width="2.8"/><path d="M842.1 57.8 L752.9 15" stroke-width="1.7"/><path d="M926.6 91.4 L853.9 57" stroke-width="2.7"/><path d="M853.9 57 L765.1 15" stroke-width="1.7"/><path d="M937.8 91.6 L864 57.1" stroke-width="2.7"/><path d="M864 57.1 L773.7 15" stroke-width="1.7"/><path d="M948.9 92.4 L873.2 57.6" stroke-width="2.6"/><path d="M873.2 57.6 L780.7 15" stroke-width="1.6"/><path d="M959.9 93.2 L882.3 58" stroke-width="2.6"/><path d="M882.3 58 L787.4 15" stroke-width="1.6"/><path d="M970.6 94 L891.1 58.4" stroke-width="2.6"/><path d="M891.1 58.4 L793.8 15" stroke-width="1.6"/><path d="M981.2 94.7 L899.7 58.9" stroke-width="2.5"/><path d="M899.7 58.9 L800 15" stroke-width="1.6"/><path d="M991.6 95.5 L908 59.3" stroke-width="2.5"/><path d="M908 59.3 L805.8 15" stroke-width="1.5"/><path d="M1001.9 96.3 L916.2 59.7" stroke-width="2.4"/><path d="M916.2 59.7 L811.4 15" stroke-width="1.5"/><path d="M1012 97 L924.1 60.1" stroke-width="2.4"/><path d="M924.1 60.1 L816.8 15" stroke-width="1.5"/><path d="M1025 98 L936.2 60.6" stroke-width="2.4"/><path d="M936.2 60.6 L827.5 15" stroke-width="1.5"/><path d="M1038.1 98.9 L948.2 61.1" stroke-width="2.4"/><path d="M948.2 61.1 L838.3 15" stroke-width="1.5"/><path d="M621.5 171 L509.4 100.8" stroke-width="3.3"/><path d="M509.4 100.8 L372.4 15" stroke-width="2"/><path d="M601 164.5 L492.5 97.2" stroke-width="3.2"/><path d="M492.5 97.2 L359.9 15" stroke-width="2"/><path d="M580.7 158.5 L475.6 93.9" stroke-width="3.2"/><path d="M475.6 93.9 L347.1 15" stroke-width="2"/><path d="M560.6 152.9 L458.4 90.9" stroke-width="3.2"/><path d="M458.4 90.9 L333.7 15" stroke-width="2"/><path d="M540.7 147.5 L441.6 87.9" stroke-width="3.1"/><path d="M441.6 87.9 L320.5 15" stroke-width="1.9"/><path d="M521 142.4 L424.8 85.1" stroke-width="3.1"/><path d="M424.8 85.1 L307.1 15" stroke-width="1.9"/><path d="M501.5 138 L407.6 82.6" stroke-width="3.1"/><path d="M407.6 82.6 L292.9 15" stroke-width="1.9"/><path d="M482.3 133.6 L390.8 80.2" stroke-width="3"/><path d="M390.8 80.2 L278.9 15" stroke-width="1.9"/><path d="M463.3 129.3 L374.2 77.9" stroke-width="3"/><path d="M374.2 77.9 L265.3 15" stroke-width="1.9"/><path d="M444.6 125.1 L357.9 75.5" stroke-width="3"/><path d="M357.9 75.5 L251.9 15" stroke-width="1.8"/><path d="M426 122 L340.8 73.8" stroke-width="2.9"/><path d="M340.8 73.8 L236.6 15" stroke-width="1.8"/><path d="M407.6 119.3 L323.5 72.4" stroke-width="2.9"/><path d="M323.5 72.4 L220.8 15" stroke-width="1.8"/><path d="M389.4 116.7 L306.5 70.9" stroke-width="2.9"/><path d="M306.5 70.9 L205.3 15" stroke-width="1.8"/><path d="M371.4 114.1 L289.8 69.5" stroke-width="2.8"/><path d="M289.8 69.5 L190 15" stroke-width="1.8"/><path d="M353.7 111.5 L273.3 68.1" stroke-width="2.8"/><path d="M273.3 68.1 L175 15" stroke-width="1.7"/><g opacity="0.87"><path d="M336.2 109.3 L256.7 66.9" stroke-width="2.8"/><path d="M256.7 66.9 L159.5 15" stroke-width="1.7"/></g><g opacity="0.73"><path d="M318.9 107.3 L240.2 65.7" stroke-width="2.7"/><path d="M240.2 65.7 L144.1 15" stroke-width="1.7"/></g><g opacity="0.59"><path d="M301.8 105.2 L224 64.6" stroke-width="2.7"/><path d="M224 64.6 L128.9 15" stroke-width="1.7"/></g><g opacity="0.46"><path d="M285 103.2 L208 63.5" stroke-width="2.7"/><path d="M208 63.5 L113.9 15" stroke-width="1.7"/></g><g opacity="0.32"><path d="M268.4 101.2 L192.2 62.4" stroke-width="2.6"/><path d="M192.2 62.4 L99.2 15" stroke-width="1.6"/></g><g opacity="0.18"><path d="M252 99.2 L176.7 61.3" stroke-width="2.6"/><path d="M176.7 61.3 L84.6 15" stroke-width="1.6"/></g><g opacity="0.15"><path d="M235.8 97.6 L161 60.4" stroke-width="2.6"/><path d="M161 60.4 L69.6 15" stroke-width="1.6"/></g></g><g stroke="#24272d" fill="none" opacity="1.00"><path d="M96.2 83.9 L125.7 52.9" stroke-width="4.6"/><path d="M125.7 52.9 L161.8 15" stroke-width="2.9"/></g><g stroke="#24272d" fill="none" opacity="1.00"><path d="M107.1 84.9 L137.1 53.5" stroke-width="4.6"/><path d="M137.1 53.5 L173.7 15" stroke-width="2.9"/></g><g stroke="#24272d" fill="none" opacity="1.00"><path d="M118 86 L148.4 54" stroke-width="4.6"/><path d="M148.4 54 L185.6 15" stroke-width="2.9"/></g><g stroke="#24272d" fill="none" opacity="1.00"><path d="M127 86.9 L157 54.5" stroke-width="4.5"/><path d="M157 54.5 L193.7 15" stroke-width="2.8"/></g><g stroke="#24272d" fill="none" opacity="1.00"><path d="M136 87.8 L165.6 55" stroke-width="4.4"/><path d="M165.6 55 L201.9 15" stroke-width="2.7"/></g><g stroke="#24272d" fill="none" opacity="1.00"><path d="M145.1 88.7 L174.4 55.5" stroke-width="4.3"/><path d="M174.4 55.5 L210.2 15" stroke-width="2.7"/></g><g stroke="#24272d" fill="none" opacity="1.00"><path d="M154.2 89.6 L183.2 56" stroke-width="4.2"/><path d="M183.2 56 L218.6 15" stroke-width="2.6"/></g><g stroke="#24272d" fill="none" opacity="1.00"><path d="M163.5 90.5 L192.1 56.5" stroke-width="4.1"/><path d="M192.1 56.5 L227.1 15" stroke-width="2.5"/></g><g stroke="#24272d" fill="none" opacity="1.00"><path d="M172.8 91.4 L201.1 57" stroke-width="4"/><path d="M201.1 57 L235.8 15" stroke-width="2.5"/></g><g stroke="#24272d" fill="none" opacity="1.00"><path d="M182.1 92.3 L210.2 57.5" stroke-width="3.9"/><path d="M210.2 57.5 L244.5 15" stroke-width="2.4"/></g><g stroke="#24272d" fill="none" opacity="1.00"><path d="M191.6 93.2 L219.4 58" stroke-width="3.8"/><path d="M219.4 58 L253.4 15" stroke-width="2.3"/></g><g stroke="#24272d" fill="none" opacity="1.00"><path d="M201.1 94.2 L228.6 58.6" stroke-width="3.7"/><path d="M228.6 58.6 L262.3 15" stroke-width="2.3"/></g><g stroke="#24272d" fill="none" opacity="1.00"><path d="M210.7 95.1 L238 59.1" stroke-width="3.6"/><path d="M238 59.1 L271.4 15" stroke-width="2.2"/></g><g stroke="#24272d" fill="none" opacity="1.00"><path d="M220.4 96.1 L247.4 59.6" stroke-width="3.5"/><path d="M247.4 59.6 L280.5 15" stroke-width="2.2"/></g><g stroke="#24272d" fill="none" opacity="1.00"><path d="M230.1 97 L257 60.1" stroke-width="3.4"/><path d="M257 60.1 L289.8 15" stroke-width="2.1"/></g><g stroke="#24272d" fill="none" opacity="1.00"><path d="M239.9 98 L266.6 60.7" stroke-width="3.3"/><path d="M266.6 60.7 L299.1 15" stroke-width="2"/></g><g stroke="#24272d" fill="none" opacity="1.00"><path d="M249.8 99 L276.3 61.2" stroke-width="3.2"/><path d="M276.3 61.2 L308.6 15" stroke-width="2"/></g><g stroke="#24272d" fill="none" opacity="1.00"><path d="M259.8 100.2 L286.1 61.8" stroke-width="3.1"/><path d="M286.1 61.8 L318.3 15" stroke-width="1.9"/></g><g stroke="#24272d" fill="none" opacity="1.00"><path d="M269.8 101.4 L296 62.5" stroke-width="3"/><path d="M296 62.5 L328.1 15" stroke-width="1.8"/></g><g stroke="#24272d" fill="none" opacity="1.00"><path d="M280 102.6 L306 63.2" stroke-width="2.9"/><path d="M306 63.2 L337.9 15" stroke-width="1.8"/></g><g stroke="#24272d" fill="none" opacity="1.00"><path d="M290.1 103.8 L316.1 63.8" stroke-width="2.8"/><path d="M316.1 63.8 L347.9 15" stroke-width="1.7"/></g><g stroke="#24272d" fill="none" opacity="0.97"><path d="M300.4 105.1 L326.3 64.5" stroke-width="2.7"/><path d="M326.3 64.5 L358 15" stroke-width="1.7"/></g><g stroke="#24272d" fill="none" opacity="0.94"><path d="M310.8 106.3 L336.6 65.2" stroke-width="2.6"/><path d="M336.6 65.2 L368.2 15" stroke-width="1.6"/></g><g stroke="#24272d" fill="none" opacity="0.90"><path d="M321.2 107.5 L347 65.9" stroke-width="2.5"/><path d="M347 65.9 L378.4 15" stroke-width="1.5"/></g><g stroke="#24272d" fill="none" opacity="0.87"><path d="M331.8 108.8 L357.4 66.6" stroke-width="2.4"/><path d="M357.4 66.6 L388.8 15" stroke-width="1.5"/></g><g stroke="#24272d" fill="none" opacity="0.83"><path d="M342.4 110.1 L368 67.3" stroke-width="2.4"/><path d="M368 67.3 L399.2 15" stroke-width="1.5"/></g><g stroke="#24272d" fill="none" opacity="0.80"><path d="M353.1 111.4 L378.6 68" stroke-width="2.4"/><path d="M378.6 68 L409.8 15" stroke-width="1.5"/></g><g stroke="#24272d" fill="none" opacity="0.77"><path d="M363.9 113 L389.4 68.9" stroke-width="2.4"/><path d="M389.4 68.9 L420.6 15" stroke-width="1.5"/></g><g stroke="#24272d" fill="none" opacity="0.73"><path d="M374.7 114.6 L400.3 69.8" stroke-width="2.4"/><path d="M400.3 69.8 L431.5 15" stroke-width="1.5"/></g><g stroke="#24272d" fill="none" opacity="0.70"><path d="M385.7 116.2 L411.2 70.6" stroke-width="2.4"/><path d="M411.2 70.6 L442.4 15" stroke-width="1.5"/></g><g stroke="#24272d" fill="none" opacity="0.66"><path d="M396.7 117.7 L422.3 71.5" stroke-width="2.4"/><path d="M422.3 71.5 L453.5 15" stroke-width="1.5"/></g><g stroke="#24272d" fill="none" opacity="0.63"><path d="M407.8 119.4 L433.4 72.4" stroke-width="2.4"/><path d="M433.4 72.4 L464.7 15" stroke-width="1.5"/></g><g stroke="#24272d" fill="none" opacity="0.59"><path d="M419 121 L444.6 73.3" stroke-width="2.4"/><path d="M444.6 73.3 L475.9 15" stroke-width="1.5"/></g><g stroke="#24272d" fill="none" opacity="0.56"><path d="M430.4 122.6 L456 74.2" stroke-width="2.4"/><path d="M456 74.2 L487.3 15" stroke-width="1.5"/></g><g stroke="#24272d" fill="none" opacity="0.52"><path d="M441.7 124.4 L467.4 75.2" stroke-width="2.4"/><path d="M467.4 75.2 L498.8 15" stroke-width="1.5"/></g><g stroke="#24272d" fill="none" opacity="0.50"><path d="M453.1 127 L479 76.6" stroke-width="2.4"/><path d="M479 76.6 L510.7 15" stroke-width="1.5"/></g><g stroke="#24272d" fill="none" opacity="0.50"><path d="M464.5 129.6 L490.7 78" stroke-width="2.4"/><path d="M490.7 78 L522.7 15" stroke-width="1.5"/></g><g stroke="#24272d" fill="none" opacity="0.50"><path d="M476.1 132.2 L502.5 79.5" stroke-width="2.4"/><path d="M502.5 79.5 L534.7 15" stroke-width="1.5"/></g><g stroke="#24272d" fill="none" opacity="0.50"><path d="M487.7 134.8 L514.3 80.9" stroke-width="2.4"/><path d="M514.3 80.9 L546.9 15" stroke-width="1.5"/></g><g stroke="#24272d" fill="none" opacity="0.50"><path d="M499.5 137.5 L526.3 82.4" stroke-width="2.4"/><path d="M526.3 82.4 L559.2 15" stroke-width="1.5"/></g><g stroke="#24272d" fill="none" opacity="0.50"><path d="M511.3 140.2 L538.4 83.9" stroke-width="2.4"/><path d="M538.4 83.9 L571.5 15" stroke-width="1.5"/></g><g stroke="#24272d" fill="none" opacity="0.50"><path d="M523.2 142.9 L550.6 85.4" stroke-width="2.4"/><path d="M550.6 85.4 L584 15" stroke-width="1.5"/></g><g stroke="#24272d" fill="none" opacity="0.50"><path d="M535.2 146 L562.9 87" stroke-width="2.4"/><path d="M562.9 87 L596.6 15" stroke-width="1.5"/></g><g stroke="#24272d" fill="none" opacity="0.50"><path d="M547.2 149.3 L575.2 88.9" stroke-width="2.4"/><path d="M575.2 88.9 L609.4 15" stroke-width="1.5"/></g><g stroke="#24272d" fill="none" opacity="0.50"><path d="M559.4 152.6 L587.7 90.7" stroke-width="2.4"/><path d="M587.7 90.7 L622.3 15" stroke-width="1.5"/></g><g stroke="#24272d" fill="none" opacity="0.50"><path d="M571.6 156 L600.3 92.5" stroke-width="2.4"/><path d="M600.3 92.5 L635.3 15" stroke-width="1.5"/></g><g stroke="#24272d" fill="none" opacity="0.50"><path d="M584 159.3 L613 94.4" stroke-width="2.4"/><path d="M613 94.4 L648.4 15" stroke-width="1.5"/></g><g stroke="#24272d" fill="none" opacity="0.50"><path d="M596.4 163 L625.7 96.4" stroke-width="2.4"/><path d="M625.7 96.4 L661.6 15" stroke-width="1.5"/></g><g stroke="#24272d" fill="none" opacity="0.50"><path d="M608.8 167 L638.6 98.6" stroke-width="2.4"/><path d="M638.6 98.6 L675 15" stroke-width="1.5"/></g><g stroke="#24272d" fill="none" opacity="0.50"><path d="M621.3 171 L651.6 100.8" stroke-width="2.4"/><path d="M651.6 100.8 L688.5 15" stroke-width="1.5"/></g></g>
<g clip-path="url(#cpSL)"><g stroke="#24272d" stroke-width="4.6" fill="none" stroke-linejoin="round"><path d="M96.2 83.9 L80.5 107.8"/><path d="M107.1 84.9 L91.4 108.9 L75.7 132.8"/><path d="M118 86 L102.3 110 L86.6 133.9"/><path d="M127 86.9 L113.2 111 L97.5 135 L81.8 158.9"/><path d="M136 87.8 L122.9 109.5 L108.3 136 L92.6 160 L71.7 191.9"/><path d="M145.1 88.7 L131.9 110.6 L118.8 134.1 L103.5 161.1 L82.6 193"/><path d="M154.2 89.6 L140.9 111.7 L127.8 133.3 L114.4 162.1 L93.5 194.1"/><path d="M163.5 90.5 L150.1 112.8 L136.8 134.6 L123.7 155.9 L104.3 195.1"/><path d="M172.8 91.4 L159.3 113.8 L145.9 135.8 L132.7 157.3 L115.1 193"/><path d="M182.1 92.3 L168.5 114.9 L155.1 137.1 L141.8 158.8 L124.3 186.9"/><path d="M191.6 93.2 L177.9 116 L164.3 138.4 L150.9 160.2 L133.3 188.6"/><path d="M201.1 94.2 L187.3 117.2 L173.7 139.6 L160.2 161.6 L142.4 190.3"/><path d="M210.7 95.1 L196.8 118.3 L183 140.9 L169.4 163.1 L151.5 191.9"/><path d="M220.4 96.1 L206.4 119.4 L192.5 142.2 L178.8 164.6 L160.7 193.6"/><path d="M230.1 97 L216 120.6 L202 143.6 L188.2 166.1 L170 195.3"/><path d="M239.9 98 L225.7 121.7 L211.6 144.9 L197.7 167.6 L179.4 197.1"/><path d="M249.8 99 L235.5 122.9 L221.3 146.2 L207.3 169.1 L188.8 198.8"/><path d="M259.8 100.2 L245.4 124 L231 147.6 L216.9 170.6 L198.3 200.6"/><path d="M269.8 101.4 L255.3 125.4 L240.9 149 L226.6 172.2 L207.9 202.3"/><path d="M280 102.6 L265.3 126.8 L250.8 150.4 L236.4 173.7 L217.5 204.1"/><path d="M290.1 103.8 L275.4 128.2 L260.7 152 L246.3 175.3 L227.2 206"/><path d="M300.4 105.1 L285.5 129.6 L270.8 153.6 L256.2 177.1 L237 207.8"/><path d="M310.8 106.3 L295.8 131.1 L280.9 155.3 L266.2 178.9 L246.9 209.7"/><path d="M321.2 107.5 L306.1 132.5 L291.1 156.9 L276.3 180.8 L256.8 211.7"/><path d="M331.8 108.8 L316.5 134 L301.4 158.6 L286.5 182.6 L266.9 213.8"/><path d="M342.4 110.1 L327 135.5 L311.8 160.3 L296.7 184.5 L276.9 216"/><path d="M353.1 111.4 L337.6 137 L322.2 161.9 L307.1 186.4 L287.1 218.1"/><path d="M363.9 113 L348.2 138.5 L332.8 163.7 L317.5 188.3 L297.4 220.3"/><path d="M374.7 114.6 L359 140.2 L343.4 165.4 L328 190.2 L307.7 222.4"/><path d="M385.7 116.2 L369.8 142 L354.1 167.3 L338.6 192.2 L318.1 224.6"/><path d="M396.7 117.7 L380.7 143.8 L364.9 169.3 L349.2 194.2 L328.6 226.9"/><path d="M407.8 119.4 L391.7 145.7 L375.7 171.3 L360 196.4 L339.2 229.1"/><path d="M419 121 L402.8 147.5 L386.7 173.4 L370.8 198.7 L349.9 231.5"/><path d="M430.4 122.6 L413.9 149.4 L397.7 175.5 L381.7 201 L360.6 234.1"/><path d="M441.7 124.4 L425.2 151.2 L408.9 177.6 L392.7 203.3 L371.5 236.6"/><path d="M453.1 127 L436.6 153.1 L420.1 179.7 L403.8 205.6 L382.4 239.2"/><path d="M464.5 129.6 L447.9 155.8 L431.4 181.8 L415 208 L393.4 241.9"/><path d="M476.1 132.2 L459.3 158.6 L442.8 184.4 L426.3 210.3 L404.5 244.5"/><path d="M487.7 134.8 L470.8 161.5 L454.1 187.5 L437.6 212.8 L415.7 247.2"/><path d="M499.5 137.5 L482.4 164.4 L465.6 190.6 L449 216.2 L427 249.9"/><path d="M511.3 140.2 L494.1 167.3 L477.1 193.8 L460.4 219.5 L438.3 252.9"/><path d="M523.2 142.9 L505.9 170.3 L488.8 196.9 L471.9 222.9 L449.6 256.6"/><path d="M535.2 146 L517.8 173.3 L500.5 200.2 L483.5 226.4 L461 260.3"/><path d="M547.2 149.3 L529.8 176.4 L512.4 203.4 L495.2 229.9 L472.6 264.1"/><path d="M559.4 152.6 L541.8 180 L524.3 206.7 L507 233.4 L484.2 267.9"/><path d="M571.6 156 L553.8 183.6 L536.3 210.5 L518.9 236.9 L495.9 271.7"/><path d="M584 159.3 L566 187.2 L548.3 214.3 L530.8 240.8 L507.7 275.6"/><path d="M596.4 163 L578.3 190.9 L560.5 218.2 L542.8 244.9 L519.6 279.5"/><path d="M608.8 167 L590.7 194.7 L572.7 222.2 L554.9 249.1 L531.5 283.9"/><path d="M621.3 171 L603.1 198.9 L585.1 226.2 L567.1 253.3 L543.5 288.4"/><path d="M634 175 L615.6 203.2 L597.4 230.6 L579.4 257.6 L555.6 293"/><path d="M644.4 178.3 L628.2 206.6 L609.9 235.2 L591.8 262.1 L567.8 297.6"/><path d="M654.8 181.6 L639.5 208.1 L622.4 239.8 L604.2 267 L580.2 302.2"/><path d="M665.3 184.9 L650 211.4 L634.7 237.8 L616.7 271.9 L592.5 307.3"/><path d="M675.7 188.3 L660.4 214.7 L645.1 241.2 L629.6 268.5 L604.9 312.6"/><path d="M686.1 191.6 L670.8 218 L655.5 244.5 L640.2 270.9 L617.4 317.9"/><path d="M696.5 194.9 L681.2 221.3 L665.9 247.8 L650.6 274.2 L630.2 309.5"/><path d="M691.7 224.7 L676.3 251.1 L661 277.5 L640.6 312.8"/><path d="M686.8 254.4 L671.5 280.9 L651 316.1"/><path d="M681.9 284.2 L661.5 319.4"/><path d="M692.3 287.5 L671.9 322.7"/></g><g stroke="#24272d" stroke-width="4.4" fill="none" stroke-linejoin="round"><path d="M651.9 180.7 L691.8 212.8"/><path d="M621.5 171 L663.6 203.8"/><path d="M587.9 160.4 L635.5 194.9 L675.4 226.9"/><path d="M554.7 151.3 L601.9 185.7 L647.2 218 L687.1 250.1"/><path d="M522.2 142.7 L568.6 175.4 L616.1 211.5 L659 241.1"/><path d="M490.2 135.4 L535.8 166 L582.6 200 L630.6 233 L670.7 264.2"/><path d="M459 128.3 L503.6 157.8 L549.5 190 L596.6 225.5 L642.6 255.3 L682.5 287.3"/><path d="M428.3 122.3 L472 150.2 L517.1 180.6 L563.3 214.5 L610.7 251.7 L654.3 278.4"/><path d="M398 117.9 L441.2 142.7 L485.2 172.4 L530.7 204.1 L577.2 239.4 L625 276.2 L666.1 301.5"/><path d="M368.4 113.7 L410.6 137.7 L454.1 164.5 L498.5 195.2 L544.3 228.4 L591.2 265.1 L637.9 292.5 L677.8 324.6"/><path d="M339.4 109.7 L380.7 133 L423.4 157.9 L467.1 186.7 L512 218.3 L558 253.3 L605.3 291.7 L649.7 315.7"/><path d="M311 106.3 L351.5 128.4 L393.2 152.7 L436.3 178.5 L480.2 209.3 L525.5 242 L571.9 278.6 L619.5 318.8"/><path d="M283.2 103 L322.8 124.5 L363.7 147.7 L405.9 172.9 L449.2 200.5 L493.5 232.3 L539.1 266.7 L585.9 304.5"/><path d="M256 99.7 L294.8 120.8 L334.8 143.1 L376.1 167.4 L418.6 193.4 L462.1 223 L506.9 255.8 L552.8 291.9"/><path d="M229.3 97 L267.3 117.2 L306.5 139 L346.9 162 L388.5 187.4 L431.5 214.2 L475.2 245.9 L520.4 279.7"/><path d="M203.2 94.4 L240.5 113.8 L278.8 134.9 L318.4 157.4 L359.1 181.6 L401.1 207.8 L444.3 236.3 L488.4 269.3"/><path d="M177.6 91.9 L214.1 110.9 L251.7 131 L290.4 153 L330.3 176.3 L371.4 201.5 L413.8 228.6 L457.2 259.1"/><path d="M152.5 89.4 L188.3 108 L225.1 127.6 L263.1 148.7 L302.1 171.4 L342.4 195.5 L383.8 221.8 L426.6 249.8"/><path d="M128 87 L163 105.2 L199.1 124.4 L236.3 144.7 L274.5 166.7 L313.9 190.2 L354.5 215.3 L396.3 242.6"/><path d="M100.8 84.3 L138.3 102.5 L173.6 121.3 L210 141.1 L247.5 162.1 L286 185.1 L325.8 209.3 L366.8 235.5"/><path d="M113.2 101.3 L148.6 118.2 L184.3 137.6 L221 158.1 L258.8 180 L297.7 203.8 L337.8 228.8"/><path d="M83.8 98.4 L124.2 115.2 L159.1 134.2 L195 154.3 L232.1 175.5 L270.2 198.3 L309.4 222.8"/><path d="M96.2 115.4 L134.4 130.9 L169.6 150.5 L205.9 171.2 L243.2 193.1 L281.7 217"/><path d="M108.7 132.4 L144.7 146.9 L180.2 167.1 L216.8 188.5 L254.5 211.3"/><path d="M79.3 129.5 L120.3 143.3 L155.1 163.1 L191 184 L227.9 206.1"/><path d="M91.7 146.5 L130.5 159.2 L165.6 179.7 L201.8 201.2"/><path d="M104.1 163.6 L140.8 175.4 L176.2 196.5"/><path d="M74.8 160.7 L116.3 176.6 L151.2 191.9"/><path d="M87.2 177.7 L126.7 187.4"/></g></g>
<g clip-path="url(#cpSR)"><g stroke="#24272d" stroke-width="5.6" fill="none" stroke-linejoin="round"><path d="M574.2 201.3 L565 244.3"/><path d="M586.2 196.1 L576.9 239 L567.7 281.9"/><path d="M598.1 190.8 L588.9 233.7 L579.6 276.7 L570.4 319.6"/><path d="M610.1 185.5 L600.8 228.5 L591.6 271.4 L582.4 314.4 L570.1 371.6"/><path d="M622 180.3 L612.8 223.2 L603.6 266.2 L594.3 309.1 L582 366.4"/><path d="M634 175 L624.8 217.9 L615.5 260.9 L606.3 303.8 L594 361.1"/><path d="M649.4 168.2 L637.1 213.5 L627.5 255.6 L618.3 298.6 L605.9 355.8"/><path d="M664.5 161.6 L652.6 209.9 L640.3 253.9 L630.2 293.3 L617.9 350.6"/><path d="M679.3 155.1 L667.6 202.5 L655.8 251.5 L643.6 296.1 L629.9 345.3"/><path d="M693.8 148.6 L682.4 195.2 L670.8 243.2 L659 292.9 L642.3 344"/><path d="M708 142.3 L696.8 188 L685.5 235.1 L673.9 283.8 L658.3 351.2"/><path d="M721.9 136.1 L711 180.9 L699.8 227.1 L688.5 274.9 L673.2 341"/><path d="M735.8 130.5 L724.8 173.9 L713.9 219.3 L702.8 266.2 L687.8 331"/><path d="M749.9 126.2 L738.7 167.8 L727.7 211.6 L716.9 257.6 L702.1 321.2"/><path d="M763.7 122 L752.7 162.9 L741.7 205.1 L730.6 249.1 L716.2 311.6"/><path d="M777.2 117.9 L766.5 158 L755.6 199.4 L744.6 242.1 L730 302.2"/><path d="M790.5 113.9 L780 153.2 L769.3 193.9 L758.5 235.8 L743.8 293.7"/><path d="M803.9 111 L793.3 148.7 L782.8 188.4 L772.1 229.6 L757.7 286.5"/><path d="M817 108.1 L806.6 145.2 L796 183.3 L785.5 223.5 L771.3 279.3"/><path d="M829.9 105.4 L819.7 141.7 L809.3 179.2 L798.8 217.9 L784.8 272.3"/><path d="M842.6 102.6 L832.5 138.4 L822.3 175.2 L812 213.2 L798 265.6"/><path d="M855.1 100.4 L845.1 135 L835.1 171.2 L825 208.5 L811.2 260.1"/><path d="M867.5 98.8 L857.6 132.3 L847.7 167.3 L837.7 204 L824.2 254.6"/><path d="M879.7 97.3 L870 130.2 L860.2 164.2 L850.2 199.5 L836.9 249.3"/><path d="M891.7 95.8 L882.2 128.2 L872.5 161.6 L862.7 196 L849.5 244"/><path d="M903.5 94.3 L894.1 126.2 L884.6 159 L875 192.8 L861.9 239.5"/><path d="M915.1 92.9 L905.9 124.2 L896.5 156.5 L887.1 189.7 L874.2 235.6"/><path d="M926.6 91.4 L917.5 122.3 L908.3 154 L898.9 186.6 L886.3 231.7"/><path d="M937.8 91.6 L928.8 120.2 L919.8 151.6 L910.6 183.7 L898.2 228"/><path d="M948.9 92.4 L940.1 120.2 L931.1 148.9 L922.1 180.8 L909.9 224.3"/><path d="M959.9 93.2 L951.2 120.6 L942.4 148.8 L933.4 177.5 L921.4 220.7"/><path d="M970.6 94 L962.1 120.9 L953.4 148.7 L944.6 177.3 L932.7 216.7"/><path d="M981.2 94.7 L972.8 121.3 L964.2 148.6 L955.6 176.7 L943.9 215.5"/><path d="M991.6 95.5 L983.3 121.6 L974.9 148.5 L966.4 176.2 L954.9 214.4"/><path d="M1001.9 96.3 L993.7 122 L985.5 148.4 L977.1 175.7 L965.8 213.2"/><path d="M1012 97 L1004 122.3 L995.8 148.4 L987.6 175.2 L976.4 212.1"/><path d="M1025 98 L1014.5 126.6 L1006 148.3 L997.9 174.7 L986.9 211"/><path d="M1038.1 98.9 L1027.5 127.6 L1017 156.2 L1008.1 174.2 L997.2 210"/><path d="M1051.1 99.9 L1040.5 128.5 L1030 157.2 L1019.5 185.9 L1007.4 209"/><path d="M1064.1 100.8 L1053.6 129.5 L1043 158.2 L1032.5 186.8 L1018.4 225"/><path d="M1056.1 159.1 L1045.5 187.8 L1031.5 226"/><path d="M1058.6 188.7 L1044.5 227"/></g><g stroke="#24272d" stroke-width="4.2" fill="none" stroke-linejoin="round"><path d="M573.4 346.1 L598.8 359"/><path d="M588.3 339.5 L613.7 352.4"/><path d="M577.9 320 L603.3 332.9 L628.7 345.9"/><path d="M567.5 300.6 L592.9 313.5 L618.2 326.4 L644.9 349.1"/><path d="M582.4 294 L607.8 306.9 L633.2 319.8 L664.3 347.1"/><path d="M572 274.5 L597.4 287.4 L622.8 300.3 L651.3 328.8 L682.7 334.5"/><path d="M586.9 267.9 L612.3 280.8 L637.7 293.7 L670 316.7 L700.7 322.2"/><path d="M576.5 248.4 L601.9 261.3 L627.3 274.2 L657.1 298.1 L688.4 304.8 L718.3 310.2"/><path d="M566.1 229 L591.5 241.9 L616.8 254.8 L643.9 275.7 L675.8 286.7 L706.2 293.2 L735.4 298.2"/><path d="M581 222.4 L606.4 235.3 L631.8 248.2 L663 268 L693.9 275.6 L723.6 281.9 L752.8 289"/><path d="M570.6 202.9 L596 215.8 L621.4 228.7 L649.9 248.5 L681.5 257.3 L711.6 264.6 L740.8 271.2 L770 280"/><path d="M585.6 196.3 L610.9 209.2 L636.5 222.5 L668.8 238.3 L699.5 246.8 L728.9 254 L758.2 262.8 L786.8 271.3"/><path d="M600.5 189.7 L625.9 202.6 L655.8 218.6 L687.1 228.3 L717.1 236.6 L746.3 245 L775.3 254.4 L803.3 263.4"/><path d="M615.5 183.2 L642.7 198.2 L674.5 209.1 L705 218.5 L734.2 226.4 L763.6 237 L791.9 246.2 L819.7 256.5"/><path d="M630.4 176.6 L661.7 189.2 L692.7 199.8 L722.4 208.9 L751.8 219 L780.5 229.2 L808.5 239.5 L835.7 249.8"/><path d="M648.6 168.6 L680.2 180.4 L710.4 190.7 L739.7 200.3 L768.9 211.6 L797.1 221.8 L824.7 233.1 L851.4 243.2"/><path d="M667.5 160.3 L698.2 171.8 L727.7 181.7 L757.2 193.4 L785.7 204.4 L813.6 215.9 L840.6 226.9 L866.9 237.9"/><path d="M685.9 152.2 L715.8 163.3 L745.2 174.6 L774.2 186.6 L802.3 198.2 L829.8 210.1 L856.2 220.9 L882.1 233.1"/><path d="M703.8 144.2 L733.1 155.1 L762.6 168.2 L790.9 180 L818.7 192.7 L845.6 204.4 L871.7 216.5 L897 228.3"/><path d="M721.2 136.4 L750.7 149.3 L779.5 162 L807.5 174.8 L834.7 187.4 L861.1 199.5 L886.8 212.1 L911.6 223.8"/><path d="M738.6 129.7 L767.9 143.5 L796.1 156.3 L823.8 169.9 L850.4 182.1 L876.5 195.4 L901.7 207.9 L926 219.3"/><path d="M756.1 124.3 L784.7 137.9 L812.6 151.8 L839.7 165 L866 178.3 L891.5 191.5 L916.2 203.7 L940 215.8"/><path d="M773.2 119.1 L801.3 133.2 L828.8 147.4 L855.3 160.6 L881.3 174.7 L906.3 187.7 L930.4 199.4 L953.8 214.5"/><path d="M789.9 114 L817.8 129.2 L844.6 143 L870.8 157.4 L896.2 171.2 L920.7 184 L944.4 197.7 L967.4 213"/><path d="M806.5 110.4 L833.8 125.2 L860.2 139.6 L886 154.2 L910.8 167.8 L934.8 180.2 L958.1 196.6 L980.6 211.7"/><path d="M822.8 106.9 L849.5 121.4 L875.6 136.8 L900.8 151.2 L925.2 164.5 L948.7 179.8 L971.6 195.6 L993.6 210.3"/><path d="M838.8 103.4 L865.1 118.9 L890.7 134.1 L915.4 148.2 L939.2 162.5 L962.4 179 L984.8 194.5 L1006.4 209.1"/><path d="M854.5 100.4 L880.4 116.6 L905.4 131.5 L929.6 145.1 L953.1 162.1 L975.7 178.3 L997.7 193.6 L1020.4 225.2"/><path d="M870 98.5 L895.4 114.3 L919.9 128.9 L943.6 144.7 L966.6 161.7 L988.9 177.7 L1010.4 192.6 L1036.7 226.4"/><path d="M885.1 96.6 L910 112.1 L934 126.8 L957.4 144.7 L979.9 161.4 L1001.7 177 L1025.6 207.3 L1053 227.6"/><path d="M900 94.7 L924.4 109.9 L948 127.2 L970.8 144.7 L992.9 161 L1014.7 186.3 L1041.9 208.5 L1069.2 228.8"/><path d="M914.6 92.9 L938.5 109.3 L961.6 127.5 L984 144.6 L1005.7 160.7 L1030.8 189.5 L1058.2 209.7"/><path d="M928.8 91.1 L952.3 110 L975 127.8 L997 144.6 L1019.8 170.5 L1047.1 190.7"/><path d="M942.9 91.9 L965.9 110.6 L988.1 128.1 L1009.7 145.7 L1036.1 171.7 L1063.4 191.9"/><path d="M956.6 92.9 L979.2 111.2 L1001 128.4 L1025 152.6 L1052.3 172.9"/><path d="M970.1 93.9 L992.2 111.9 L1013.9 133.6 L1041.3 153.8"/><path d="M983.3 94.9 L1005 112.5 L1030.2 134.8 L1057.6 155"/><path d="M996.3 95.8 L1019.2 115.7 L1046.5 136"/><path d="M1009 96.8 L1035.4 116.9 L1062.8 137.2"/><path d="M1024.4 97.9 L1051.7 118.1"/></g></g>
<path d="M634 176 L634 240" stroke="#2a2d33" stroke-width="2.5"/>
<g stroke="#1aa9e2" fill="none"><g clip-path="url(#cpTop)"><path d="M742.9 128.4 L653.4 77.4" stroke-width="4"/><path d="M653.4 77.4 L544 15" stroke-width="2.5"/></g><path d="M742.9 128.4 L731.7 170.4 L720.9 215.5 L709.9 261.9 L695 326.1" stroke-width="4.0" stroke-dasharray="8 3.5"/><g clip-path="url(#cpTop)"><path d="M790.5 113.9 L709.1 69.4" stroke-width="4"/><path d="M709.1 69.4 L609.7 15" stroke-width="2.5"/></g><path d="M790.5 113.9 L780 153.2 L769.3 193.9 L758.5 235.8 L743.8 293.7" stroke-width="4.0" stroke-dasharray="8 3.5"/><g clip-path="url(#cpTop)"><path d="M836.3 104 L759.8 63.9" stroke-width="3"/><path d="M759.8 63.9 L666.2 15" stroke-width="1.9"/></g><path d="M836.3 104 L826.1 140 L815.8 177.2 L805.4 215.5 L791.4 268.8" stroke-width="3.0" stroke-dasharray="8 3.5"/><path d="M296 92 L322 128 L354 178" stroke-width="5" stroke-dasharray="9 3.5"/><path d="M309 92 L336 130 L368 184" stroke-width="3.2" stroke-dasharray="9 3.5"/><g clip-path="url(#cpTop)"><path d="M172.8 91.4 L204 57" stroke-width="2.6"/><path d="M204 57 L242.2 15" stroke-width="1.6"/></g><path d="M172.8 91.4 L159.3 113.8 L145.9 135.8 L132.7 157.3 L115.1 193" stroke-width="2.6" stroke-dasharray="6 3"/><g clip-path="url(#cpTop)"><path d="M191.6 93.2 L223.6 58" stroke-width="2.2"/><path d="M223.6 58 L262.7 15" stroke-width="1.4"/></g><path d="M191.6 93.2 L177.9 116 L164.3 138.4 L150.9 160.2 L133.3 188.6" stroke-width="2.2" stroke-dasharray="6 3"/><path d="M290 105 L640 100 L1005 91.5" stroke-width="1.7" stroke-dasharray="7 9"/><path d="M450 41.5 L700 41.5" stroke-width="1.2" stroke-dasharray="4 9" opacity=".8"/></g>
<rect x="95" y="15" width="945" height="235" fill="url(#gCovTopDark)"/>
<rect x="95" y="15" width="945" height="235" fill="url(#gCovHi)"/>
<rect x="95" y="15" width="945" height="235" fill="url(#gCovDarkR)"/>
<rect x="95" y="15" width="945" height="235" fill="url(#gCovDarkL)"/>
</g>
<line x1="966" y1="113.8" x2="1348.8" y2="113.8" stroke="#000" stroke-width="2.1"/>
<circle cx="966" cy="113.8" r="5.2" fill="#000"/>
<text x="1355" y="123.2" font-size="20" fill="#111" stroke="#111" stroke-width=".4">1</text>
<line x1="903.3" y1="209.1" x2="1348.8" y2="209.1" stroke="#000" stroke-width="2.1"/>
<circle cx="903.3" cy="209.1" r="5.2" fill="#000"/>
<text x="1355" y="218.5" font-size="20" fill="#111" stroke="#111" stroke-width=".4">2</text>
<line x1="912" y1="315.3" x2="1348.8" y2="315.3" stroke="#000" stroke-width="2.1"/>
<circle cx="912" cy="315.3" r="5.2" fill="#000"/>
<text x="1355" y="324.7" font-size="20" fill="#111" stroke="#111" stroke-width=".4">3</text>
<line x1="915" y1="387.4" x2="1348.8" y2="387.4" stroke="#000" stroke-width="2.1"/>
<circle cx="915" cy="387.4" r="5.2" fill="#000"/>
<text x="1355" y="396.8" font-size="20" fill="#111" stroke="#111" stroke-width=".4">4</text>
<line x1="949.8" y1="504" x2="1348.8" y2="504" stroke="#000" stroke-width="2.1"/>
<circle cx="949.8" cy="504" r="5.2" fill="#000"/>
<text x="1355" y="513.4" font-size="20" fill="#111" stroke="#111" stroke-width=".4">5</text>
<line x1="939.6" y1="595.7" x2="1348.8" y2="595.7" stroke="#000" stroke-width="2.1"/>
<circle cx="939.6" cy="595.7" r="5.2" fill="#000"/>
<text x="1355" y="605.1" font-size="20" fill="#111" stroke="#111" stroke-width=".4">6</text>
<g font-size="20.3" fill="#111" stroke="#111" stroke-width=".35">
<text x="90.5" y="932.4">1.</text>
<text x="115.4" y="932.4" textLength="639.7" lengthAdjust="spacing">Hyper Cool Luxury 4-way Stretch Knit Cover for Uniform Comfort &amp;</text>
<text x="115.4" y="961" textLength="602.4" lengthAdjust="spacing">Durability. Cooling Action with Phase Changing Material (PCM)</text>
<text x="91" y="989.7" textLength="16.5" lengthAdjust="spacing">2.</text>
<text x="115.4" y="989.7" textLength="673.4" lengthAdjust="spacing">4'' Premium High Density Gel Memory Foam for Personalized Comfort</text>
<text x="91" y="1018.3" textLength="16.5" lengthAdjust="spacing">3.</text>
<text x="115.4" y="1018.3" textLength="476.1" lengthAdjust="spacing">Premium Pressure Sensitive NanoCoil Technology</text>
<text x="842" y="932.4" textLength="16.5" lengthAdjust="spacing">4.</text>
<text x="866.1" y="932.4" textLength="103.4" lengthAdjust="spacing" font-weight="bold">Super Soft</text>
<text x="975.7" y="932.4" textLength="280.7" lengthAdjust="spacing">High Density Transition Foam</text>
<text x="842" y="961" textLength="16.5" lengthAdjust="spacing">5.</text>
<text x="866.1" y="961" textLength="483" lengthAdjust="spacing">Power Packed Wrapped Coil Unit with Ashley Edge</text>
<text x="866.1" y="989.7" textLength="458.9" lengthAdjust="spacing">to Minimize Motion Transfer &amp; Increase Support</text>
<text x="842" y="1018.3" textLength="16.5" lengthAdjust="spacing">6.</text>
<text x="866.1" y="1018.3" textLength="420.8" lengthAdjust="spacing">Base Support Foam for Stability &amp; Durability</text>
</g>
</svg></body></html>
